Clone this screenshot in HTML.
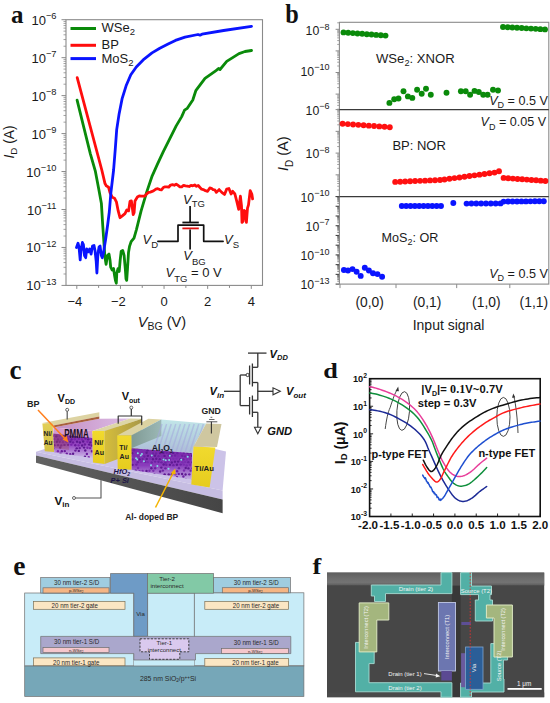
<!DOCTYPE html>
<html><head><meta charset="utf-8"><title>Figure</title>
<style>html,body{margin:0;padding:0;background:#fff;}svg{display:block;}</style></head>
<body><svg width="550" height="703" viewBox="0 0 550 703">
<rect width="550" height="703" fill="#fff"/>
<line x1="61.5" y1="19.7" x2="66" y2="19.7" stroke="#8a8a8a" stroke-width="1" />
<line x1="63.5" y1="46.23" x2="66" y2="46.23" stroke="#8a8a8a" stroke-width="0.8" />
<line x1="63.5" y1="39.55" x2="66" y2="39.55" stroke="#8a8a8a" stroke-width="0.8" />
<line x1="63.5" y1="34.81" x2="66" y2="34.81" stroke="#8a8a8a" stroke-width="0.8" />
<line x1="63.5" y1="31.13" x2="66" y2="31.13" stroke="#8a8a8a" stroke-width="0.8" />
<line x1="63.5" y1="28.12" x2="66" y2="28.12" stroke="#8a8a8a" stroke-width="0.8" />
<line x1="63.5" y1="25.58" x2="66" y2="25.58" stroke="#8a8a8a" stroke-width="0.8" />
<line x1="63.5" y1="23.38" x2="66" y2="23.38" stroke="#8a8a8a" stroke-width="0.8" />
<line x1="63.5" y1="21.44" x2="66" y2="21.44" stroke="#8a8a8a" stroke-width="0.8" />
<line x1="61.5" y1="57.66" x2="66" y2="57.66" stroke="#8a8a8a" stroke-width="1" />
<line x1="63.5" y1="84.19" x2="66" y2="84.19" stroke="#8a8a8a" stroke-width="0.8" />
<line x1="63.5" y1="77.51" x2="66" y2="77.51" stroke="#8a8a8a" stroke-width="0.8" />
<line x1="63.5" y1="72.77" x2="66" y2="72.77" stroke="#8a8a8a" stroke-width="0.8" />
<line x1="63.5" y1="69.09" x2="66" y2="69.09" stroke="#8a8a8a" stroke-width="0.8" />
<line x1="63.5" y1="66.08" x2="66" y2="66.08" stroke="#8a8a8a" stroke-width="0.8" />
<line x1="63.5" y1="63.54" x2="66" y2="63.54" stroke="#8a8a8a" stroke-width="0.8" />
<line x1="63.5" y1="61.34" x2="66" y2="61.34" stroke="#8a8a8a" stroke-width="0.8" />
<line x1="63.5" y1="59.4" x2="66" y2="59.4" stroke="#8a8a8a" stroke-width="0.8" />
<line x1="61.5" y1="95.62" x2="66" y2="95.62" stroke="#8a8a8a" stroke-width="1" />
<line x1="63.5" y1="122.15" x2="66" y2="122.15" stroke="#8a8a8a" stroke-width="0.8" />
<line x1="63.5" y1="115.47" x2="66" y2="115.47" stroke="#8a8a8a" stroke-width="0.8" />
<line x1="63.5" y1="110.73" x2="66" y2="110.73" stroke="#8a8a8a" stroke-width="0.8" />
<line x1="63.5" y1="107.05" x2="66" y2="107.05" stroke="#8a8a8a" stroke-width="0.8" />
<line x1="63.5" y1="104.04" x2="66" y2="104.04" stroke="#8a8a8a" stroke-width="0.8" />
<line x1="63.5" y1="101.5" x2="66" y2="101.5" stroke="#8a8a8a" stroke-width="0.8" />
<line x1="63.5" y1="99.3" x2="66" y2="99.3" stroke="#8a8a8a" stroke-width="0.8" />
<line x1="63.5" y1="97.36" x2="66" y2="97.36" stroke="#8a8a8a" stroke-width="0.8" />
<line x1="61.5" y1="133.58" x2="66" y2="133.58" stroke="#8a8a8a" stroke-width="1" />
<line x1="63.5" y1="160.11" x2="66" y2="160.11" stroke="#8a8a8a" stroke-width="0.8" />
<line x1="63.5" y1="153.43" x2="66" y2="153.43" stroke="#8a8a8a" stroke-width="0.8" />
<line x1="63.5" y1="148.69" x2="66" y2="148.69" stroke="#8a8a8a" stroke-width="0.8" />
<line x1="63.5" y1="145.01" x2="66" y2="145.01" stroke="#8a8a8a" stroke-width="0.8" />
<line x1="63.5" y1="142" x2="66" y2="142" stroke="#8a8a8a" stroke-width="0.8" />
<line x1="63.5" y1="139.46" x2="66" y2="139.46" stroke="#8a8a8a" stroke-width="0.8" />
<line x1="63.5" y1="137.26" x2="66" y2="137.26" stroke="#8a8a8a" stroke-width="0.8" />
<line x1="63.5" y1="135.32" x2="66" y2="135.32" stroke="#8a8a8a" stroke-width="0.8" />
<line x1="61.5" y1="171.54" x2="66" y2="171.54" stroke="#8a8a8a" stroke-width="1" />
<line x1="63.5" y1="198.07" x2="66" y2="198.07" stroke="#8a8a8a" stroke-width="0.8" />
<line x1="63.5" y1="191.39" x2="66" y2="191.39" stroke="#8a8a8a" stroke-width="0.8" />
<line x1="63.5" y1="186.65" x2="66" y2="186.65" stroke="#8a8a8a" stroke-width="0.8" />
<line x1="63.5" y1="182.97" x2="66" y2="182.97" stroke="#8a8a8a" stroke-width="0.8" />
<line x1="63.5" y1="179.96" x2="66" y2="179.96" stroke="#8a8a8a" stroke-width="0.8" />
<line x1="63.5" y1="177.42" x2="66" y2="177.42" stroke="#8a8a8a" stroke-width="0.8" />
<line x1="63.5" y1="175.22" x2="66" y2="175.22" stroke="#8a8a8a" stroke-width="0.8" />
<line x1="63.5" y1="173.28" x2="66" y2="173.28" stroke="#8a8a8a" stroke-width="0.8" />
<line x1="61.5" y1="209.5" x2="66" y2="209.5" stroke="#8a8a8a" stroke-width="1" />
<line x1="63.5" y1="236.03" x2="66" y2="236.03" stroke="#8a8a8a" stroke-width="0.8" />
<line x1="63.5" y1="229.35" x2="66" y2="229.35" stroke="#8a8a8a" stroke-width="0.8" />
<line x1="63.5" y1="224.61" x2="66" y2="224.61" stroke="#8a8a8a" stroke-width="0.8" />
<line x1="63.5" y1="220.93" x2="66" y2="220.93" stroke="#8a8a8a" stroke-width="0.8" />
<line x1="63.5" y1="217.92" x2="66" y2="217.92" stroke="#8a8a8a" stroke-width="0.8" />
<line x1="63.5" y1="215.38" x2="66" y2="215.38" stroke="#8a8a8a" stroke-width="0.8" />
<line x1="63.5" y1="213.18" x2="66" y2="213.18" stroke="#8a8a8a" stroke-width="0.8" />
<line x1="63.5" y1="211.24" x2="66" y2="211.24" stroke="#8a8a8a" stroke-width="0.8" />
<line x1="61.5" y1="247.46" x2="66" y2="247.46" stroke="#8a8a8a" stroke-width="1" />
<line x1="63.5" y1="273.99" x2="66" y2="273.99" stroke="#8a8a8a" stroke-width="0.8" />
<line x1="63.5" y1="267.31" x2="66" y2="267.31" stroke="#8a8a8a" stroke-width="0.8" />
<line x1="63.5" y1="262.57" x2="66" y2="262.57" stroke="#8a8a8a" stroke-width="0.8" />
<line x1="63.5" y1="258.89" x2="66" y2="258.89" stroke="#8a8a8a" stroke-width="0.8" />
<line x1="63.5" y1="255.88" x2="66" y2="255.88" stroke="#8a8a8a" stroke-width="0.8" />
<line x1="63.5" y1="253.34" x2="66" y2="253.34" stroke="#8a8a8a" stroke-width="0.8" />
<line x1="63.5" y1="251.14" x2="66" y2="251.14" stroke="#8a8a8a" stroke-width="0.8" />
<line x1="63.5" y1="249.2" x2="66" y2="249.2" stroke="#8a8a8a" stroke-width="0.8" />
<line x1="61.5" y1="285.42" x2="66" y2="285.42" stroke="#8a8a8a" stroke-width="1" />
<line x1="76.81" y1="285.4" x2="76.81" y2="288.9" stroke="#8a8a8a" stroke-width="1" />
<line x1="98.62" y1="285.4" x2="98.62" y2="287.9" stroke="#8a8a8a" stroke-width="1" />
<line x1="120.43" y1="285.4" x2="120.43" y2="288.9" stroke="#8a8a8a" stroke-width="1" />
<line x1="142.24" y1="285.4" x2="142.24" y2="287.9" stroke="#8a8a8a" stroke-width="1" />
<line x1="164.05" y1="285.4" x2="164.05" y2="288.9" stroke="#8a8a8a" stroke-width="1" />
<line x1="185.86" y1="285.4" x2="185.86" y2="287.9" stroke="#8a8a8a" stroke-width="1" />
<line x1="207.67" y1="285.4" x2="207.67" y2="288.9" stroke="#8a8a8a" stroke-width="1" />
<line x1="229.48" y1="285.4" x2="229.48" y2="287.9" stroke="#8a8a8a" stroke-width="1" />
<line x1="251.29" y1="285.4" x2="251.29" y2="288.9" stroke="#8a8a8a" stroke-width="1" />
<rect x="66" y="19.7" width="196.5" height="265.7" fill="none" stroke="#8a8a8a" stroke-width="1.1" />
<text x="56.5" y="24.7" font-family='"Liberation Sans", sans-serif' font-size="13" fill="#1a1a1a" text-anchor="end">10<tspan font-size="9.3" dy="-5.6">−6</tspan></text>
<text x="56.5" y="62.66" font-family='"Liberation Sans", sans-serif' font-size="13" fill="#1a1a1a" text-anchor="end">10<tspan font-size="9.3" dy="-5.6">−7</tspan></text>
<text x="56.5" y="100.62" font-family='"Liberation Sans", sans-serif' font-size="13" fill="#1a1a1a" text-anchor="end">10<tspan font-size="9.3" dy="-5.6">−8</tspan></text>
<text x="56.5" y="138.58" font-family='"Liberation Sans", sans-serif' font-size="13" fill="#1a1a1a" text-anchor="end">10<tspan font-size="9.3" dy="-5.6">−9</tspan></text>
<text x="56.5" y="176.54" font-family='"Liberation Sans", sans-serif' font-size="13" fill="#1a1a1a" text-anchor="end">10<tspan font-size="9.3" dy="-5.6">−10</tspan></text>
<text x="56.5" y="214.5" font-family='"Liberation Sans", sans-serif' font-size="13" fill="#1a1a1a" text-anchor="end">10<tspan font-size="9.3" dy="-5.6">−11</tspan></text>
<text x="56.5" y="252.46" font-family='"Liberation Sans", sans-serif' font-size="13" fill="#1a1a1a" text-anchor="end">10<tspan font-size="9.3" dy="-5.6">−12</tspan></text>
<text x="56.5" y="290.42" font-family='"Liberation Sans", sans-serif' font-size="13" fill="#1a1a1a" text-anchor="end">10<tspan font-size="9.3" dy="-5.6">−13</tspan></text>
<text x="74.81" y="306.3" font-family='"Liberation Sans", sans-serif' font-size="13" fill="#1a1a1a" text-anchor="middle" font-weight="normal" font-style="normal" >−4</text>
<text x="118.43" y="306.3" font-family='"Liberation Sans", sans-serif' font-size="13" fill="#1a1a1a" text-anchor="middle" font-weight="normal" font-style="normal" >−2</text>
<text x="164.05" y="306.3" font-family='"Liberation Sans", sans-serif' font-size="13" fill="#1a1a1a" text-anchor="middle" font-weight="normal" font-style="normal" >0</text>
<text x="207.67" y="306.3" font-family='"Liberation Sans", sans-serif' font-size="13" fill="#1a1a1a" text-anchor="middle" font-weight="normal" font-style="normal" >2</text>
<text x="251.29" y="306.3" font-family='"Liberation Sans", sans-serif' font-size="13" fill="#1a1a1a" text-anchor="middle" font-weight="normal" font-style="normal" >4</text>
<text x="137.8" y="327.3" font-family='"Liberation Sans", sans-serif' font-size="14.6" fill="#1a1a1a"><tspan font-style="italic">V</tspan><tspan font-size="10.5" dy="3">BG</tspan><tspan dy="-3"> (V)</tspan></text>
<text transform="translate(14.4,158.6) rotate(-90)" font-family='"Liberation Sans", sans-serif' font-size="13.8" fill="#1a1a1a"><tspan font-style="italic">I</tspan><tspan font-size="9.8" dy="3">D</tspan><tspan dy="-3"> (A)</tspan></text>
<text x="11" y="22.9" font-family='"Liberation Serif", serif' font-size="25" fill="#111" text-anchor="start" font-weight="bold" font-style="normal" >a</text>
<polyline points="77.1,100.2 84,128.2 90.3,153.6 95.4,171.4 98.6,188.2 101.4,203.6 102.7,225 103.7,239.5 104.9,257 106.1,264.3 107.5,255.5 109,254.1 110,259.9 110.7,267.2 112.2,270.1 113.6,268.6 114.4,274.5 115.4,280.3 116.3,283.2 116.8,273 118,268.6 119.2,271.5 120.2,259.9 121.2,251.2 122.7,250.5 124.1,255.5 125.3,268.6 126,278.8 126.7,280.3 127.5,268.6 128.5,252.6 129.6,246.1 131.1,241.7 134,238.1 136.5,229.3 141.1,210.9 146.6,192.4 152.2,175.8 157.7,163.7 163.3,151.7 169.7,138.8 176.2,125.9 181.7,116.6 184.5,110.2 187.3,108.3 192.8,100 195.8,90.7 205,78.4 216,70.6 218.5,68.5 220,69.5 226.7,61.4 239,53.6 245,51.5 251.5,50.5" fill="none" stroke="#0a8a0a" stroke-width="2.8" stroke-linejoin="round" stroke-linecap="round" />
<polyline points="77.2,77.6 101.8,170 105,183.6 106.4,185.9 108.6,187.3 110,192.7 112.3,197.3 114.5,198.2 116.4,201.8 118.2,210.9 120,217.7 122.3,215.9 125,213.6 126.8,210 128.6,210.9 130,201.4 131.4,200.9 133.2,214.5 134.1,212.7 135,200.9 137.4,197 139.25,195.87 141.1,196.1 142.95,196.21 144.8,196.1 146.65,193.91 148.5,192.4 150.33,192.04 152.17,191.46 154,190.5 155.87,189.07 157.73,188.63 159.6,189.6 161.45,189.78 163.3,187.57 165.15,186.81 167,186.8 168.8,187.19 170.6,185 172.47,184.62 174.33,185.27 176.2,184.1 178.05,185.39 179.9,186.8 181.73,186.86 183.57,185.29 185.4,185.9 187.26,186.07 189.12,186.5 190.98,185.42 192.84,185.81 194.7,185 196.47,186.28 198.23,185.53 200,187.5 201.65,189.22 203.3,189.6 205.45,190.69 207.6,191.3 209.8,188 211.45,188.28 213.1,189.6 214.75,189.78 216.4,192.4 219.1,189.6 221.8,192.4 224.5,194.5 226.7,189.1 228.9,188.5 231.1,194 232.7,191.3 234.9,194 237.1,202.7 238.7,209.3 240.4,196.2 241.5,206 242,222.4 243.1,221.3 244.2,210.4 245.3,211.5 246.4,222.4 247.5,208.2 248.5,204.9 250.2,190.7 251.8,194 252.6,198.9" fill="none" stroke="#ff0d0d" stroke-width="2.8" stroke-linejoin="round" stroke-linecap="round" />
<polyline points="76.5,247.5 78,243.2 79,246.8 80.2,259.9 80.9,251.2 82.4,242.5 83.4,244.6 84.5,255.5 85.7,257.7 86.7,249 88.2,251.9 89.6,249 91.1,254.1 92.5,246.1 94,245.4 95,250.5 96.2,261.4 96.9,273 97.9,254.1 99.1,246.8 100.1,246.1 101.3,255.5 102.3,257.7 103.5,252.6 105.6,239.5 107.7,224.5 109.3,212 110.9,192.7 113.6,170 115.2,150 116.7,129.6 119.1,113.9 122.2,98.3 126.1,85.8 130.8,74.8 136.3,67 144.1,59.1 152,52.9 159.8,48.2 167.6,44.3 175.4,40.4 185,37.2 198,34.5 200,35.2 202,34.2 223.6,30.5 251.5,26.4" fill="none" stroke="#0a14ff" stroke-width="2.8" stroke-linejoin="round" stroke-linecap="round" />
<line x1="70.5" y1="28.5" x2="96" y2="28.5" stroke="#0a8a0a" stroke-width="3" />
<line x1="70.5" y1="45.3" x2="96" y2="45.3" stroke="#ff0d0d" stroke-width="3" />
<line x1="70.5" y1="58.6" x2="96" y2="58.6" stroke="#0a14ff" stroke-width="3" />
<text x="101.5" y="32.3" font-family='"Liberation Sans", sans-serif' font-size="13" fill="#1a1a1a" text-anchor="start" font-weight="normal" font-style="normal" >WSe<tspan font-size="9.5" dy="3">2</tspan></text>
<text x="101.5" y="48.8" font-family='"Liberation Sans", sans-serif' font-size="13" fill="#1a1a1a" text-anchor="start" font-weight="normal" font-style="normal" >BP</text>
<text x="101.5" y="62.6" font-family='"Liberation Sans", sans-serif' font-size="13" fill="#1a1a1a" text-anchor="start" font-weight="normal" font-style="normal" >MoS<tspan font-size="9.5" dy="3">2</tspan></text>
<line x1="190.1" y1="206" x2="190.1" y2="222.5" stroke="#111" stroke-width="1.7" />
<line x1="182.4" y1="222.5" x2="198.8" y2="222.5" stroke="#111" stroke-width="1.8" />
<polyline points="157.9,241.3 178,241.3 178,225.2 203.7,225.2 203.7,241.3 223.1,241.3" fill="none" stroke="#111" stroke-width="1.7" stroke-linejoin="round" stroke-linecap="round" stroke-linecap="butt" stroke-linejoin="miter"/>
<line x1="182.4" y1="228.4" x2="198.8" y2="228.4" stroke="#e01010" stroke-width="1.8" />
<line x1="190.1" y1="229.5" x2="190.1" y2="249.5" stroke="#111" stroke-width="1.7" />
<text x="183" y="203.6" font-family='"Liberation Sans", sans-serif' font-size="13" fill="#1a1a1a"><tspan font-style="italic">V</tspan><tspan font-size="9.5" dy="3.5">TG</tspan></text>
<text x="224" y="244" font-family='"Liberation Sans", sans-serif' font-size="13" fill="#1a1a1a"><tspan font-style="italic">V</tspan><tspan font-size="9.5" dy="3.5">S</tspan></text>
<text x="142.6" y="244.2" font-family='"Liberation Sans", sans-serif' font-size="13" fill="#1a1a1a"><tspan font-style="italic">V</tspan><tspan font-size="9.5" dy="3.5">D</tspan></text>
<text x="183.3" y="260.3" font-family='"Liberation Sans", sans-serif' font-size="13" fill="#1a1a1a"><tspan font-style="italic">V</tspan><tspan font-size="9.5" dy="4.8">BG</tspan></text>
<text x="165.5" y="277.2" font-family='"Liberation Sans", sans-serif' font-size="13" fill="#1a1a1a"><tspan font-style="italic">V</tspan><tspan font-size="9.5" dy="5">TG</tspan><tspan dy="-5"> = 0 V</tspan></text>
<line x1="337.2" y1="109.2" x2="339.4" y2="109.2" stroke="#8a8a8a" stroke-width="0.8" />
<line x1="337.2" y1="105.39" x2="339.4" y2="105.39" stroke="#8a8a8a" stroke-width="0.8" />
<line x1="337.2" y1="102.7" x2="339.4" y2="102.7" stroke="#8a8a8a" stroke-width="0.8" />
<line x1="337.2" y1="100.6" x2="339.4" y2="100.6" stroke="#8a8a8a" stroke-width="0.8" />
<line x1="337.2" y1="98.89" x2="339.4" y2="98.89" stroke="#8a8a8a" stroke-width="0.8" />
<line x1="337.2" y1="97.45" x2="339.4" y2="97.45" stroke="#8a8a8a" stroke-width="0.8" />
<line x1="337.2" y1="96.19" x2="339.4" y2="96.19" stroke="#8a8a8a" stroke-width="0.8" />
<line x1="337.2" y1="95.09" x2="339.4" y2="95.09" stroke="#8a8a8a" stroke-width="0.8" />
<line x1="335.6" y1="94.1" x2="339.4" y2="94.1" stroke="#8a8a8a" stroke-width="1" />
<line x1="337.2" y1="87.6" x2="339.4" y2="87.6" stroke="#8a8a8a" stroke-width="0.8" />
<line x1="337.2" y1="83.79" x2="339.4" y2="83.79" stroke="#8a8a8a" stroke-width="0.8" />
<line x1="337.2" y1="81.1" x2="339.4" y2="81.1" stroke="#8a8a8a" stroke-width="0.8" />
<line x1="337.2" y1="79" x2="339.4" y2="79" stroke="#8a8a8a" stroke-width="0.8" />
<line x1="337.2" y1="77.29" x2="339.4" y2="77.29" stroke="#8a8a8a" stroke-width="0.8" />
<line x1="337.2" y1="75.85" x2="339.4" y2="75.85" stroke="#8a8a8a" stroke-width="0.8" />
<line x1="337.2" y1="74.59" x2="339.4" y2="74.59" stroke="#8a8a8a" stroke-width="0.8" />
<line x1="337.2" y1="73.49" x2="339.4" y2="73.49" stroke="#8a8a8a" stroke-width="0.8" />
<line x1="335.6" y1="72.5" x2="339.4" y2="72.5" stroke="#8a8a8a" stroke-width="1" />
<line x1="337.2" y1="66" x2="339.4" y2="66" stroke="#8a8a8a" stroke-width="0.8" />
<line x1="337.2" y1="62.19" x2="339.4" y2="62.19" stroke="#8a8a8a" stroke-width="0.8" />
<line x1="337.2" y1="59.5" x2="339.4" y2="59.5" stroke="#8a8a8a" stroke-width="0.8" />
<line x1="337.2" y1="57.4" x2="339.4" y2="57.4" stroke="#8a8a8a" stroke-width="0.8" />
<line x1="337.2" y1="55.69" x2="339.4" y2="55.69" stroke="#8a8a8a" stroke-width="0.8" />
<line x1="337.2" y1="54.25" x2="339.4" y2="54.25" stroke="#8a8a8a" stroke-width="0.8" />
<line x1="337.2" y1="52.99" x2="339.4" y2="52.99" stroke="#8a8a8a" stroke-width="0.8" />
<line x1="337.2" y1="51.89" x2="339.4" y2="51.89" stroke="#8a8a8a" stroke-width="0.8" />
<line x1="335.6" y1="50.9" x2="339.4" y2="50.9" stroke="#8a8a8a" stroke-width="1" />
<line x1="337.2" y1="44.4" x2="339.4" y2="44.4" stroke="#8a8a8a" stroke-width="0.8" />
<line x1="337.2" y1="40.59" x2="339.4" y2="40.59" stroke="#8a8a8a" stroke-width="0.8" />
<line x1="337.2" y1="37.9" x2="339.4" y2="37.9" stroke="#8a8a8a" stroke-width="0.8" />
<line x1="337.2" y1="35.8" x2="339.4" y2="35.8" stroke="#8a8a8a" stroke-width="0.8" />
<line x1="337.2" y1="34.09" x2="339.4" y2="34.09" stroke="#8a8a8a" stroke-width="0.8" />
<line x1="337.2" y1="32.65" x2="339.4" y2="32.65" stroke="#8a8a8a" stroke-width="0.8" />
<line x1="337.2" y1="31.39" x2="339.4" y2="31.39" stroke="#8a8a8a" stroke-width="0.8" />
<line x1="337.2" y1="30.29" x2="339.4" y2="30.29" stroke="#8a8a8a" stroke-width="0.8" />
<line x1="335.6" y1="29.3" x2="339.4" y2="29.3" stroke="#8a8a8a" stroke-width="1" />
<line x1="337.2" y1="22.8" x2="339.4" y2="22.8" stroke="#8a8a8a" stroke-width="0.8" />
<line x1="335.6" y1="196.6" x2="339.4" y2="196.6" stroke="#8a8a8a" stroke-width="1" />
<line x1="337.2" y1="190.05" x2="339.4" y2="190.05" stroke="#8a8a8a" stroke-width="0.8" />
<line x1="337.2" y1="186.22" x2="339.4" y2="186.22" stroke="#8a8a8a" stroke-width="0.8" />
<line x1="337.2" y1="183.51" x2="339.4" y2="183.51" stroke="#8a8a8a" stroke-width="0.8" />
<line x1="337.2" y1="181.4" x2="339.4" y2="181.4" stroke="#8a8a8a" stroke-width="0.8" />
<line x1="337.2" y1="179.68" x2="339.4" y2="179.68" stroke="#8a8a8a" stroke-width="0.8" />
<line x1="337.2" y1="178.22" x2="339.4" y2="178.22" stroke="#8a8a8a" stroke-width="0.8" />
<line x1="337.2" y1="176.96" x2="339.4" y2="176.96" stroke="#8a8a8a" stroke-width="0.8" />
<line x1="337.2" y1="175.85" x2="339.4" y2="175.85" stroke="#8a8a8a" stroke-width="0.8" />
<line x1="335.6" y1="174.85" x2="339.4" y2="174.85" stroke="#8a8a8a" stroke-width="1" />
<line x1="337.2" y1="168.3" x2="339.4" y2="168.3" stroke="#8a8a8a" stroke-width="0.8" />
<line x1="337.2" y1="164.47" x2="339.4" y2="164.47" stroke="#8a8a8a" stroke-width="0.8" />
<line x1="337.2" y1="161.76" x2="339.4" y2="161.76" stroke="#8a8a8a" stroke-width="0.8" />
<line x1="337.2" y1="159.65" x2="339.4" y2="159.65" stroke="#8a8a8a" stroke-width="0.8" />
<line x1="337.2" y1="157.93" x2="339.4" y2="157.93" stroke="#8a8a8a" stroke-width="0.8" />
<line x1="337.2" y1="156.47" x2="339.4" y2="156.47" stroke="#8a8a8a" stroke-width="0.8" />
<line x1="337.2" y1="155.21" x2="339.4" y2="155.21" stroke="#8a8a8a" stroke-width="0.8" />
<line x1="337.2" y1="154.1" x2="339.4" y2="154.1" stroke="#8a8a8a" stroke-width="0.8" />
<line x1="335.6" y1="153.1" x2="339.4" y2="153.1" stroke="#8a8a8a" stroke-width="1" />
<line x1="337.2" y1="146.55" x2="339.4" y2="146.55" stroke="#8a8a8a" stroke-width="0.8" />
<line x1="337.2" y1="142.72" x2="339.4" y2="142.72" stroke="#8a8a8a" stroke-width="0.8" />
<line x1="337.2" y1="140.01" x2="339.4" y2="140.01" stroke="#8a8a8a" stroke-width="0.8" />
<line x1="337.2" y1="137.9" x2="339.4" y2="137.9" stroke="#8a8a8a" stroke-width="0.8" />
<line x1="337.2" y1="136.18" x2="339.4" y2="136.18" stroke="#8a8a8a" stroke-width="0.8" />
<line x1="337.2" y1="134.72" x2="339.4" y2="134.72" stroke="#8a8a8a" stroke-width="0.8" />
<line x1="337.2" y1="133.46" x2="339.4" y2="133.46" stroke="#8a8a8a" stroke-width="0.8" />
<line x1="337.2" y1="132.35" x2="339.4" y2="132.35" stroke="#8a8a8a" stroke-width="0.8" />
<line x1="335.6" y1="131.35" x2="339.4" y2="131.35" stroke="#8a8a8a" stroke-width="1" />
<line x1="337.2" y1="124.8" x2="339.4" y2="124.8" stroke="#8a8a8a" stroke-width="0.8" />
<line x1="337.2" y1="120.97" x2="339.4" y2="120.97" stroke="#8a8a8a" stroke-width="0.8" />
<line x1="337.2" y1="118.26" x2="339.4" y2="118.26" stroke="#8a8a8a" stroke-width="0.8" />
<line x1="337.2" y1="116.15" x2="339.4" y2="116.15" stroke="#8a8a8a" stroke-width="0.8" />
<line x1="337.2" y1="114.43" x2="339.4" y2="114.43" stroke="#8a8a8a" stroke-width="0.8" />
<line x1="337.2" y1="112.97" x2="339.4" y2="112.97" stroke="#8a8a8a" stroke-width="0.8" />
<line x1="337.2" y1="111.71" x2="339.4" y2="111.71" stroke="#8a8a8a" stroke-width="0.8" />
<line x1="337.2" y1="110.6" x2="339.4" y2="110.6" stroke="#8a8a8a" stroke-width="0.8" />
<line x1="335.6" y1="109.6" x2="339.4" y2="109.6" stroke="#8a8a8a" stroke-width="1" />
<line x1="335.6" y1="284.1" x2="339.4" y2="284.1" stroke="#444" stroke-width="1.1" />
<line x1="337.3" y1="281.17" x2="339.4" y2="281.17" stroke="#555" stroke-width="0.7" />
<line x1="337.3" y1="279.46" x2="339.4" y2="279.46" stroke="#555" stroke-width="0.7" />
<line x1="337.3" y1="278.24" x2="339.4" y2="278.24" stroke="#555" stroke-width="0.7" />
<line x1="337.3" y1="277.3" x2="339.4" y2="277.3" stroke="#555" stroke-width="0.7" />
<line x1="337.3" y1="276.53" x2="339.4" y2="276.53" stroke="#555" stroke-width="0.7" />
<line x1="337.3" y1="275.88" x2="339.4" y2="275.88" stroke="#555" stroke-width="0.7" />
<line x1="337.3" y1="275.31" x2="339.4" y2="275.31" stroke="#555" stroke-width="0.7" />
<line x1="337.3" y1="274.82" x2="339.4" y2="274.82" stroke="#555" stroke-width="0.7" />
<line x1="335.6" y1="274.37" x2="339.4" y2="274.37" stroke="#444" stroke-width="1.1" />
<line x1="337.3" y1="271.44" x2="339.4" y2="271.44" stroke="#555" stroke-width="0.7" />
<line x1="337.3" y1="269.73" x2="339.4" y2="269.73" stroke="#555" stroke-width="0.7" />
<line x1="337.3" y1="268.51" x2="339.4" y2="268.51" stroke="#555" stroke-width="0.7" />
<line x1="337.3" y1="267.57" x2="339.4" y2="267.57" stroke="#555" stroke-width="0.7" />
<line x1="337.3" y1="266.8" x2="339.4" y2="266.8" stroke="#555" stroke-width="0.7" />
<line x1="337.3" y1="266.15" x2="339.4" y2="266.15" stroke="#555" stroke-width="0.7" />
<line x1="337.3" y1="265.58" x2="339.4" y2="265.58" stroke="#555" stroke-width="0.7" />
<line x1="337.3" y1="265.09" x2="339.4" y2="265.09" stroke="#555" stroke-width="0.7" />
<line x1="335.6" y1="264.64" x2="339.4" y2="264.64" stroke="#444" stroke-width="1.1" />
<line x1="337.3" y1="261.71" x2="339.4" y2="261.71" stroke="#555" stroke-width="0.7" />
<line x1="337.3" y1="260" x2="339.4" y2="260" stroke="#555" stroke-width="0.7" />
<line x1="337.3" y1="258.78" x2="339.4" y2="258.78" stroke="#555" stroke-width="0.7" />
<line x1="337.3" y1="257.84" x2="339.4" y2="257.84" stroke="#555" stroke-width="0.7" />
<line x1="337.3" y1="257.07" x2="339.4" y2="257.07" stroke="#555" stroke-width="0.7" />
<line x1="337.3" y1="256.42" x2="339.4" y2="256.42" stroke="#555" stroke-width="0.7" />
<line x1="337.3" y1="255.85" x2="339.4" y2="255.85" stroke="#555" stroke-width="0.7" />
<line x1="337.3" y1="255.36" x2="339.4" y2="255.36" stroke="#555" stroke-width="0.7" />
<line x1="335.6" y1="254.91" x2="339.4" y2="254.91" stroke="#444" stroke-width="1.1" />
<line x1="337.3" y1="251.98" x2="339.4" y2="251.98" stroke="#555" stroke-width="0.7" />
<line x1="337.3" y1="250.27" x2="339.4" y2="250.27" stroke="#555" stroke-width="0.7" />
<line x1="337.3" y1="249.05" x2="339.4" y2="249.05" stroke="#555" stroke-width="0.7" />
<line x1="337.3" y1="248.11" x2="339.4" y2="248.11" stroke="#555" stroke-width="0.7" />
<line x1="337.3" y1="247.34" x2="339.4" y2="247.34" stroke="#555" stroke-width="0.7" />
<line x1="337.3" y1="246.69" x2="339.4" y2="246.69" stroke="#555" stroke-width="0.7" />
<line x1="337.3" y1="246.12" x2="339.4" y2="246.12" stroke="#555" stroke-width="0.7" />
<line x1="337.3" y1="245.63" x2="339.4" y2="245.63" stroke="#555" stroke-width="0.7" />
<line x1="335.6" y1="245.18" x2="339.4" y2="245.18" stroke="#444" stroke-width="1.1" />
<line x1="337.3" y1="242.25" x2="339.4" y2="242.25" stroke="#555" stroke-width="0.7" />
<line x1="337.3" y1="240.54" x2="339.4" y2="240.54" stroke="#555" stroke-width="0.7" />
<line x1="337.3" y1="239.32" x2="339.4" y2="239.32" stroke="#555" stroke-width="0.7" />
<line x1="337.3" y1="238.38" x2="339.4" y2="238.38" stroke="#555" stroke-width="0.7" />
<line x1="337.3" y1="237.61" x2="339.4" y2="237.61" stroke="#555" stroke-width="0.7" />
<line x1="337.3" y1="236.96" x2="339.4" y2="236.96" stroke="#555" stroke-width="0.7" />
<line x1="337.3" y1="236.39" x2="339.4" y2="236.39" stroke="#555" stroke-width="0.7" />
<line x1="337.3" y1="235.9" x2="339.4" y2="235.9" stroke="#555" stroke-width="0.7" />
<line x1="335.6" y1="235.45" x2="339.4" y2="235.45" stroke="#444" stroke-width="1.1" />
<line x1="337.3" y1="232.52" x2="339.4" y2="232.52" stroke="#555" stroke-width="0.7" />
<line x1="337.3" y1="230.81" x2="339.4" y2="230.81" stroke="#555" stroke-width="0.7" />
<line x1="337.3" y1="229.59" x2="339.4" y2="229.59" stroke="#555" stroke-width="0.7" />
<line x1="337.3" y1="228.65" x2="339.4" y2="228.65" stroke="#555" stroke-width="0.7" />
<line x1="337.3" y1="227.88" x2="339.4" y2="227.88" stroke="#555" stroke-width="0.7" />
<line x1="337.3" y1="227.23" x2="339.4" y2="227.23" stroke="#555" stroke-width="0.7" />
<line x1="337.3" y1="226.66" x2="339.4" y2="226.66" stroke="#555" stroke-width="0.7" />
<line x1="337.3" y1="226.17" x2="339.4" y2="226.17" stroke="#555" stroke-width="0.7" />
<line x1="335.6" y1="225.72" x2="339.4" y2="225.72" stroke="#444" stroke-width="1.1" />
<line x1="337.3" y1="222.79" x2="339.4" y2="222.79" stroke="#555" stroke-width="0.7" />
<line x1="337.3" y1="221.08" x2="339.4" y2="221.08" stroke="#555" stroke-width="0.7" />
<line x1="337.3" y1="219.86" x2="339.4" y2="219.86" stroke="#555" stroke-width="0.7" />
<line x1="337.3" y1="218.92" x2="339.4" y2="218.92" stroke="#555" stroke-width="0.7" />
<line x1="337.3" y1="218.15" x2="339.4" y2="218.15" stroke="#555" stroke-width="0.7" />
<line x1="337.3" y1="217.5" x2="339.4" y2="217.5" stroke="#555" stroke-width="0.7" />
<line x1="337.3" y1="216.93" x2="339.4" y2="216.93" stroke="#555" stroke-width="0.7" />
<line x1="337.3" y1="216.44" x2="339.4" y2="216.44" stroke="#555" stroke-width="0.7" />
<line x1="335.6" y1="215.99" x2="339.4" y2="215.99" stroke="#444" stroke-width="1.1" />
<line x1="337.3" y1="213.06" x2="339.4" y2="213.06" stroke="#555" stroke-width="0.7" />
<line x1="337.3" y1="211.35" x2="339.4" y2="211.35" stroke="#555" stroke-width="0.7" />
<line x1="337.3" y1="210.13" x2="339.4" y2="210.13" stroke="#555" stroke-width="0.7" />
<line x1="337.3" y1="209.19" x2="339.4" y2="209.19" stroke="#555" stroke-width="0.7" />
<line x1="337.3" y1="208.42" x2="339.4" y2="208.42" stroke="#555" stroke-width="0.7" />
<line x1="337.3" y1="207.77" x2="339.4" y2="207.77" stroke="#555" stroke-width="0.7" />
<line x1="337.3" y1="207.2" x2="339.4" y2="207.2" stroke="#555" stroke-width="0.7" />
<line x1="337.3" y1="206.71" x2="339.4" y2="206.71" stroke="#555" stroke-width="0.7" />
<line x1="335.6" y1="206.26" x2="339.4" y2="206.26" stroke="#444" stroke-width="1.1" />
<line x1="337.3" y1="203.33" x2="339.4" y2="203.33" stroke="#555" stroke-width="0.7" />
<line x1="337.3" y1="201.62" x2="339.4" y2="201.62" stroke="#555" stroke-width="0.7" />
<line x1="337.3" y1="200.4" x2="339.4" y2="200.4" stroke="#555" stroke-width="0.7" />
<line x1="337.3" y1="199.46" x2="339.4" y2="199.46" stroke="#555" stroke-width="0.7" />
<line x1="337.3" y1="198.69" x2="339.4" y2="198.69" stroke="#555" stroke-width="0.7" />
<line x1="337.3" y1="198.04" x2="339.4" y2="198.04" stroke="#555" stroke-width="0.7" />
<line x1="337.3" y1="197.47" x2="339.4" y2="197.47" stroke="#555" stroke-width="0.7" />
<line x1="337.3" y1="196.98" x2="339.4" y2="196.98" stroke="#555" stroke-width="0.7" />
<line x1="335.6" y1="196.53" x2="339.4" y2="196.53" stroke="#444" stroke-width="1.1" />
<line x1="340" y1="284.1" x2="340" y2="288.1" stroke="#8a8a8a" stroke-width="1" />
<line x1="396" y1="284.1" x2="396" y2="288.1" stroke="#8a8a8a" stroke-width="1" />
<line x1="456.7" y1="284.1" x2="456.7" y2="288.1" stroke="#8a8a8a" stroke-width="1" />
<line x1="509.8" y1="284.1" x2="509.8" y2="288.1" stroke="#8a8a8a" stroke-width="1" />
<rect x="339.4" y="22.3" width="209.4" height="261.8" fill="none" stroke="#8a8a8a" stroke-width="1.1" />
<line x1="339.4" y1="109.6" x2="548.8" y2="109.6" stroke="#3a3a3a" stroke-width="1.4" />
<line x1="339.4" y1="196.6" x2="548.8" y2="196.6" stroke="#3a3a3a" stroke-width="1.4" />
<text x="329.5" y="34.9" font-family='"Liberation Sans", sans-serif' font-size="12.3" fill="#1a1a1a" text-anchor="end">10<tspan font-size="9" dy="-5.4">−8</tspan></text>
<text x="329.5" y="75.6" font-family='"Liberation Sans", sans-serif' font-size="12.3" fill="#1a1a1a" text-anchor="end">10<tspan font-size="9" dy="-5.4">−10</tspan></text>
<text x="329.5" y="114.6" font-family='"Liberation Sans", sans-serif' font-size="12.3" fill="#1a1a1a" text-anchor="end">10<tspan font-size="9" dy="-5.4">−6</tspan></text>
<text x="329.5" y="158.2" font-family='"Liberation Sans", sans-serif' font-size="12.3" fill="#1a1a1a" text-anchor="end">10<tspan font-size="9" dy="-5.4">−8</tspan></text>
<text x="329.5" y="201.6" font-family='"Liberation Sans", sans-serif' font-size="12.3" fill="#1a1a1a" text-anchor="end">10<tspan font-size="9" dy="-5.4">−10</tspan></text>
<text x="329.5" y="230.7" font-family='"Liberation Sans", sans-serif' font-size="12.3" fill="#1a1a1a" text-anchor="end">10<tspan font-size="9" dy="-5.4">−7</tspan></text>
<text x="329.5" y="259.9" font-family='"Liberation Sans", sans-serif' font-size="12.3" fill="#1a1a1a" text-anchor="end">10<tspan font-size="9" dy="-5.4">−10</tspan></text>
<text x="329.5" y="289.1" font-family='"Liberation Sans", sans-serif' font-size="12.3" fill="#1a1a1a" text-anchor="end">10<tspan font-size="9" dy="-5.4">−13</tspan></text>
<text x="369.6" y="306.6" font-family='"Liberation Sans", sans-serif' font-size="13.8" fill="#1a1a1a" text-anchor="middle" font-weight="normal" font-style="normal" >(0,0)</text>
<text x="427.2" y="306.6" font-family='"Liberation Sans", sans-serif' font-size="13.8" fill="#1a1a1a" text-anchor="middle" font-weight="normal" font-style="normal" >(0,1)</text>
<text x="486.3" y="306.6" font-family='"Liberation Sans", sans-serif' font-size="13.8" fill="#1a1a1a" text-anchor="middle" font-weight="normal" font-style="normal" >(1,0)</text>
<text x="533.8" y="306.6" font-family='"Liberation Sans", sans-serif' font-size="13.8" fill="#1a1a1a" text-anchor="middle" font-weight="normal" font-style="normal" >(1,1)</text>
<text x="448.5" y="330" font-family='"Liberation Sans", sans-serif' font-size="14" fill="#1a1a1a" text-anchor="middle" font-weight="normal" font-style="normal" >Input signal</text>
<text transform="translate(288.2,171) rotate(-90)" font-family='"Liberation Sans", sans-serif' font-size="14.5" fill="#1a1a1a"><tspan font-style="italic">I</tspan><tspan font-size="10" dy="4.5">D</tspan><tspan dy="-4.5"> (A)</tspan></text>
<text x="0" y="0" font-family='"Liberation Serif", serif' font-size="27" fill="#111" text-anchor="start" font-weight="bold" font-style="normal" transform="translate(285.3,23.2) scale(0.9,1)">b</text>
<text x="376" y="63.3" font-family='"Liberation Sans", sans-serif' font-size="13.1" fill="#1a1a1a" text-anchor="start" font-weight="normal" font-style="normal" >WSe<tspan font-size="9.2" dy="3">2</tspan><tspan dy="-3">: XNOR</tspan></text>
<text x="392.4" y="150" font-family='"Liberation Sans", sans-serif' font-size="13" fill="#1a1a1a" text-anchor="start" font-weight="normal" font-style="normal" >BP: NOR</text>
<text x="381.5" y="241.9" font-family='"Liberation Sans", sans-serif' font-size="12.6" fill="#1a1a1a" text-anchor="start" font-weight="normal" font-style="normal" >MoS<tspan font-size="9" dy="3">2</tspan><tspan dy="-3">: OR</tspan></text>
<text x="547.8" y="104.5" font-family='"Liberation Sans", sans-serif' font-size="12.6" fill="#1a1a1a" text-anchor="end"><tspan font-style="italic">V</tspan><tspan font-size="9" dy="3.2">D</tspan><tspan dy="-3.2"> = 0.5 V</tspan></text>
<text x="546.2" y="126.4" font-family='"Liberation Sans", sans-serif' font-size="12.6" fill="#1a1a1a" text-anchor="end"><tspan font-style="italic">V</tspan><tspan font-size="9" dy="3.2">D</tspan><tspan dy="-3.2"> = 0.05 V</tspan></text>
<text x="547.8" y="278.2" font-family='"Liberation Sans", sans-serif' font-size="12.6" fill="#1a1a1a" text-anchor="end"><tspan font-style="italic">V</tspan><tspan font-size="9" dy="3.2">D</tspan><tspan dy="-3.2"> = 0.5 V</tspan></text>
<circle cx="343.5" cy="32.4" r="2.95" fill="#0a8a0a"/>
<circle cx="348.17" cy="32.76" r="2.95" fill="#0a8a0a"/>
<circle cx="352.83" cy="33.11" r="2.95" fill="#0a8a0a"/>
<circle cx="357.5" cy="33.47" r="2.95" fill="#0a8a0a"/>
<circle cx="362.17" cy="33.82" r="2.95" fill="#0a8a0a"/>
<circle cx="366.83" cy="34.18" r="2.95" fill="#0a8a0a"/>
<circle cx="371.5" cy="34.53" r="2.95" fill="#0a8a0a"/>
<circle cx="376.17" cy="34.89" r="2.95" fill="#0a8a0a"/>
<circle cx="380.83" cy="35.24" r="2.95" fill="#0a8a0a"/>
<circle cx="385.5" cy="35.6" r="2.95" fill="#0a8a0a"/>
<circle cx="503" cy="27" r="2.95" fill="#0a8a0a"/>
<circle cx="507.67" cy="27.27" r="2.95" fill="#0a8a0a"/>
<circle cx="512.33" cy="27.53" r="2.95" fill="#0a8a0a"/>
<circle cx="517" cy="27.8" r="2.95" fill="#0a8a0a"/>
<circle cx="521.67" cy="28.07" r="2.95" fill="#0a8a0a"/>
<circle cx="526.33" cy="28.33" r="2.95" fill="#0a8a0a"/>
<circle cx="531" cy="28.6" r="2.95" fill="#0a8a0a"/>
<circle cx="535.67" cy="28.87" r="2.95" fill="#0a8a0a"/>
<circle cx="540.33" cy="29.13" r="2.95" fill="#0a8a0a"/>
<circle cx="545" cy="29.4" r="2.95" fill="#0a8a0a"/>
<circle cx="389.4" cy="102.9" r="2.95" fill="#0a8a0a"/>
<circle cx="394.2" cy="99.2" r="2.95" fill="#0a8a0a"/>
<circle cx="398.5" cy="98.5" r="2.95" fill="#0a8a0a"/>
<circle cx="403.5" cy="91.3" r="2.95" fill="#0a8a0a"/>
<circle cx="407.9" cy="96.4" r="2.95" fill="#0a8a0a"/>
<circle cx="412.3" cy="97.9" r="2.95" fill="#0a8a0a"/>
<circle cx="417.1" cy="89.8" r="2.95" fill="#0a8a0a"/>
<circle cx="421.7" cy="93.7" r="2.95" fill="#0a8a0a"/>
<circle cx="426" cy="88.7" r="2.95" fill="#0a8a0a"/>
<circle cx="430.8" cy="94.8" r="2.95" fill="#0a8a0a"/>
<circle cx="446.5" cy="92.7" r="2.95" fill="#0a8a0a"/>
<circle cx="460.9" cy="91.3" r="2.95" fill="#0a8a0a"/>
<circle cx="465.7" cy="91.3" r="2.95" fill="#0a8a0a"/>
<circle cx="470.1" cy="94.8" r="2.95" fill="#0a8a0a"/>
<circle cx="474.5" cy="90.9" r="2.95" fill="#0a8a0a"/>
<circle cx="478.8" cy="92" r="2.95" fill="#0a8a0a"/>
<circle cx="483.2" cy="94.8" r="2.95" fill="#0a8a0a"/>
<circle cx="487.6" cy="94.8" r="2.95" fill="#0a8a0a"/>
<circle cx="493" cy="89.8" r="2.95" fill="#0a8a0a"/>
<circle cx="498" cy="90.5" r="2.95" fill="#0a8a0a"/>
<circle cx="342.6" cy="123.7" r="2.95" fill="#ff1010"/>
<circle cx="347.84" cy="124.09" r="2.95" fill="#ff1010"/>
<circle cx="353.09" cy="124.48" r="2.95" fill="#ff1010"/>
<circle cx="358.33" cy="124.87" r="2.95" fill="#ff1010"/>
<circle cx="363.58" cy="125.26" r="2.95" fill="#ff1010"/>
<circle cx="368.82" cy="125.64" r="2.95" fill="#ff1010"/>
<circle cx="374.07" cy="126.03" r="2.95" fill="#ff1010"/>
<circle cx="379.31" cy="126.42" r="2.95" fill="#ff1010"/>
<circle cx="384.56" cy="126.81" r="2.95" fill="#ff1010"/>
<circle cx="389.8" cy="127.2" r="2.95" fill="#ff1010"/>
<circle cx="395.2" cy="181.9" r="2.95" fill="#ff1010"/>
<circle cx="400.18" cy="181.69" r="2.95" fill="#ff1010"/>
<circle cx="405.16" cy="181.48" r="2.95" fill="#ff1010"/>
<circle cx="410.13" cy="181.27" r="2.95" fill="#ff1010"/>
<circle cx="415.11" cy="181.06" r="2.95" fill="#ff1010"/>
<circle cx="420.09" cy="180.84" r="2.95" fill="#ff1010"/>
<circle cx="425.07" cy="180.63" r="2.95" fill="#ff1010"/>
<circle cx="430.04" cy="180.42" r="2.95" fill="#ff1010"/>
<circle cx="435.02" cy="180.21" r="2.95" fill="#ff1010"/>
<circle cx="440" cy="180" r="2.95" fill="#ff1010"/>
<circle cx="444.5" cy="179.5" r="2.95" fill="#ff1010"/>
<circle cx="449.5" cy="178.81" r="2.95" fill="#ff1010"/>
<circle cx="454.5" cy="178.12" r="2.95" fill="#ff1010"/>
<circle cx="459.5" cy="177.43" r="2.95" fill="#ff1010"/>
<circle cx="464.5" cy="176.74" r="2.95" fill="#ff1010"/>
<circle cx="469.5" cy="176.05" r="2.95" fill="#ff1010"/>
<circle cx="474.5" cy="175.36" r="2.95" fill="#ff1010"/>
<circle cx="479.5" cy="174.67" r="2.95" fill="#ff1010"/>
<circle cx="484.5" cy="173.98" r="2.95" fill="#ff1010"/>
<circle cx="489.5" cy="173.29" r="2.95" fill="#ff1010"/>
<circle cx="494.5" cy="172.6" r="2.95" fill="#ff1010"/>
<circle cx="499" cy="171.2" r="2.95" fill="#ff1010"/>
<circle cx="503.6" cy="177.9" r="2.95" fill="#ff1010"/>
<circle cx="508.24" cy="178.24" r="2.95" fill="#ff1010"/>
<circle cx="512.89" cy="178.59" r="2.95" fill="#ff1010"/>
<circle cx="517.53" cy="178.93" r="2.95" fill="#ff1010"/>
<circle cx="522.18" cy="179.28" r="2.95" fill="#ff1010"/>
<circle cx="526.82" cy="179.62" r="2.95" fill="#ff1010"/>
<circle cx="531.47" cy="179.97" r="2.95" fill="#ff1010"/>
<circle cx="536.11" cy="180.31" r="2.95" fill="#ff1010"/>
<circle cx="540.76" cy="180.66" r="2.95" fill="#ff1010"/>
<circle cx="545.4" cy="181" r="2.95" fill="#ff1010"/>
<circle cx="401.8" cy="206" r="2.95" fill="#0a14ff"/>
<circle cx="406.16" cy="206" r="2.95" fill="#0a14ff"/>
<circle cx="410.51" cy="206" r="2.95" fill="#0a14ff"/>
<circle cx="414.87" cy="206" r="2.95" fill="#0a14ff"/>
<circle cx="419.22" cy="206" r="2.95" fill="#0a14ff"/>
<circle cx="423.58" cy="206" r="2.95" fill="#0a14ff"/>
<circle cx="427.93" cy="206" r="2.95" fill="#0a14ff"/>
<circle cx="432.29" cy="206" r="2.95" fill="#0a14ff"/>
<circle cx="436.64" cy="206" r="2.95" fill="#0a14ff"/>
<circle cx="441" cy="206" r="2.95" fill="#0a14ff"/>
<circle cx="453.3" cy="203" r="2.95" fill="#0a14ff"/>
<circle cx="466.6" cy="203.6" r="2.95" fill="#0a14ff"/>
<circle cx="471.44" cy="203.57" r="2.95" fill="#0a14ff"/>
<circle cx="476.29" cy="203.54" r="2.95" fill="#0a14ff"/>
<circle cx="481.13" cy="203.51" r="2.95" fill="#0a14ff"/>
<circle cx="485.97" cy="203.49" r="2.95" fill="#0a14ff"/>
<circle cx="490.81" cy="203.46" r="2.95" fill="#0a14ff"/>
<circle cx="495.66" cy="203.43" r="2.95" fill="#0a14ff"/>
<circle cx="500.5" cy="203.4" r="2.95" fill="#0a14ff"/>
<circle cx="503.6" cy="201.6" r="2.95" fill="#0a14ff"/>
<circle cx="508.07" cy="201.56" r="2.95" fill="#0a14ff"/>
<circle cx="512.53" cy="201.51" r="2.95" fill="#0a14ff"/>
<circle cx="517" cy="201.47" r="2.95" fill="#0a14ff"/>
<circle cx="521.47" cy="201.42" r="2.95" fill="#0a14ff"/>
<circle cx="525.93" cy="201.38" r="2.95" fill="#0a14ff"/>
<circle cx="530.4" cy="201.33" r="2.95" fill="#0a14ff"/>
<circle cx="534.87" cy="201.29" r="2.95" fill="#0a14ff"/>
<circle cx="539.33" cy="201.24" r="2.95" fill="#0a14ff"/>
<circle cx="543.8" cy="201.2" r="2.95" fill="#0a14ff"/>
<circle cx="343.9" cy="270" r="2.95" fill="#0a14ff"/>
<circle cx="348" cy="270.5" r="2.95" fill="#0a14ff"/>
<circle cx="352.5" cy="269.1" r="2.95" fill="#0a14ff"/>
<circle cx="356.6" cy="271.8" r="2.95" fill="#0a14ff"/>
<circle cx="360.7" cy="275.9" r="2.95" fill="#0a14ff"/>
<circle cx="364.8" cy="267.7" r="2.95" fill="#0a14ff"/>
<circle cx="368.9" cy="270.5" r="2.95" fill="#0a14ff"/>
<circle cx="373" cy="273.2" r="2.95" fill="#0a14ff"/>
<circle cx="377.5" cy="274.1" r="2.95" fill="#0a14ff"/>
<circle cx="382.1" cy="276.8" r="2.95" fill="#0a14ff"/>
<defs>
<linearGradient id="ySide" x1="0" y1="0" x2="1" y2="0">
<stop offset="0" stop-color="#d6be3a"/><stop offset="1" stop-color="#a8984a"/></linearGradient>
<linearGradient id="yFront" x1="0" y1="0" x2="0" y2="1">
<stop offset="0" stop-color="#f1da2e"/><stop offset="1" stop-color="#e6cc1e"/></linearGradient>
<linearGradient id="yFront1" x1="0" y1="0" x2="0" y2="1">
<stop offset="0" stop-color="#e2cf58"/><stop offset="1" stop-color="#d4bf40"/></linearGradient>
<linearGradient id="slabG" x1="0" y1="0" x2="1" y2="0">
<stop offset="0" stop-color="#626262"/><stop offset="1" stop-color="#454545"/></linearGradient>
<linearGradient id="bpG" x1="0" y1="0" x2="0" y2="1">
<stop offset="0" stop-color="#7c2aa6"/><stop offset="0.45" stop-color="#9444c2"/><stop offset="1" stop-color="#cdbde8"/></linearGradient>
<linearGradient id="alG" x1="0" y1="0" x2="0" y2="1">
<stop offset="0" stop-color="#7a28a8"/><stop offset="0.55" stop-color="#8a3cbc"/><stop offset="1" stop-color="#c4b2e4"/></linearGradient>
<linearGradient id="pmG" x1="0" y1="0" x2="1" y2="0">
<stop offset="0" stop-color="#c48ec2"/><stop offset="1" stop-color="#dcbce6"/></linearGradient>
<linearGradient id="e3side" x1="0" y1="0" x2="1" y2="0">
<stop offset="0" stop-color="#7f9a94"/><stop offset="1" stop-color="#9cb8b6"/></linearGradient>
<linearGradient id="alTop" x1="0" y1="0" x2="0" y2="1">
<stop offset="0" stop-color="#c2e6e8"/><stop offset="0.45" stop-color="#b6d4e0"/><stop offset="1" stop-color="#aebcd8"/></linearGradient>
<clipPath id="alTopClip"><polygon points="131.4,435.4 161.3,419.6 206.2,423.6 193.5,446.4 192,453.2 131.5,448.3"/></clipPath>
<clipPath id="bpClip"><polygon points="53.3,433.6 92.3,438 92.6,458 54.4,452.6"/></clipPath>
<clipPath id="alClip"><polygon points="131.5,448.3 192,453.2 191.6,479.5 131.5,469.8"/></clipPath>
</defs>
<polygon points="36,451.8 116,426 226,451.4 222.6,490.5" fill="#ccc3e8" />
<polygon points="36,451.8 222.6,490.5 222.6,499.5 36,455.6" fill="#c6bde2" />
<polygon points="36,455.6 222.6,499.5 222.6,513.2 36,462.8" fill="url(#slabG)" />
<polygon points="53.4,427.4 99.3,418.8 130,418.6 92.3,431" fill="url(#pmG)" />
<polygon points="42.4,423 99.3,412.2 99.3,416.6 53.4,425.4" fill="#ddd3a2" />
<polygon points="53.4,425.4 99.3,416.6 99.3,418.8 53.4,427.4" fill="#a8603e" />
<polygon points="42.4,423.5 52.6,423.5 54.2,451.9 44.8,451.3" fill="url(#yFront1)" />
<polygon points="53.4,427.4 92.3,431 92.3,438 53.3,433.6" fill="#d39ad0" />
<polygon points="53.3,433.6 92.3,438 92.6,458 54.4,452.6" fill="url(#bpG)" />
<g clip-path="url(#bpClip)"><circle cx="52.95" cy="436.06" r="1.2" fill="#7a24ac"/><circle cx="56.35" cy="436.36" r="1.2" fill="#5c1890"/><circle cx="59.78" cy="436.11" r="1.2" fill="#7a24ac"/><circle cx="63" cy="435.59" r="1.2" fill="#5c1890"/><circle cx="66.73" cy="436.1" r="1.2" fill="#7a24ac"/><circle cx="70.15" cy="436.12" r="1.2" fill="#6a1c9c"/><circle cx="73.73" cy="435.56" r="1.2" fill="#6a1c9c"/><circle cx="76.9" cy="436.28" r="1.2" fill="#5c1890"/><circle cx="80.54" cy="436.02" r="1.2" fill="#7a24ac"/><circle cx="83.1" cy="435.58" r="1.2" fill="#7a24ac"/><circle cx="87.5" cy="436.5" r="1.2" fill="#5c1890"/><circle cx="90.15" cy="436.26" r="1.2" fill="#6a1c9c"/><circle cx="54.27" cy="439.27" r="1.2" fill="#7a24ac"/><circle cx="57.99" cy="439.46" r="1.2" fill="#6a1c9c"/><circle cx="61.21" cy="439.43" r="1.2" fill="#7a24ac"/><circle cx="65.38" cy="438.9" r="1.2" fill="#5c1890"/><circle cx="68" cy="439.17" r="1.2" fill="#7a24ac"/><circle cx="71.53" cy="439.46" r="1.2" fill="#6a1c9c"/><circle cx="74.73" cy="439.21" r="1.2" fill="#7a24ac"/><circle cx="78.8" cy="438.68" r="1.2" fill="#7a24ac"/><circle cx="81.91" cy="439.49" r="1.2" fill="#7a24ac"/><circle cx="85.44" cy="438.62" r="1.2" fill="#6a1c9c"/><circle cx="88.2" cy="439.36" r="1.2" fill="#5c1890"/><circle cx="91.9" cy="439.38" r="1.2" fill="#7a24ac"/><circle cx="53.5" cy="442.1" r="1.2" fill="#6a1c9c"/><circle cx="56.89" cy="441.71" r="1.2" fill="#5c1890"/><circle cx="59.63" cy="441.8" r="1.2" fill="#6a1c9c"/><circle cx="62.91" cy="442.14" r="1.2" fill="#7a24ac"/><circle cx="66.47" cy="441.95" r="1.2" fill="#7a24ac"/><circle cx="70.33" cy="441.64" r="1.2" fill="#5c1890"/><circle cx="73.05" cy="442.41" r="1.2" fill="#6a1c9c"/><circle cx="77.03" cy="441.66" r="1.2" fill="#5c1890"/><circle cx="79.9" cy="442.45" r="1.2" fill="#5c1890"/><circle cx="83.18" cy="441.55" r="1.2" fill="#5c1890"/><circle cx="87.46" cy="441.74" r="1.2" fill="#7a24ac"/><circle cx="90.32" cy="442.4" r="1.2" fill="#5c1890"/><circle cx="54.38" cy="445.22" r="1.2" fill="#6a1c9c"/><circle cx="58.08" cy="445.15" r="1.2" fill="#6a1c9c"/><circle cx="61.28" cy="445.42" r="1.2" fill="#6a1c9c"/><circle cx="64.47" cy="444.91" r="1.2" fill="#6a1c9c"/><circle cx="67.98" cy="444.87" r="1.2" fill="#6a1c9c"/><circle cx="71.29" cy="444.64" r="1.2" fill="#7a24ac"/><circle cx="75.26" cy="445.19" r="1.2" fill="#6a1c9c"/><circle cx="78.59" cy="445.42" r="1.2" fill="#7a24ac"/><circle cx="82.1" cy="445.46" r="1.2" fill="#5c1890"/><circle cx="84.87" cy="444.57" r="1.2" fill="#6a1c9c"/><circle cx="89.2" cy="444.58" r="1.2" fill="#5c1890"/><circle cx="91.64" cy="445.44" r="1.2" fill="#6a1c9c"/><circle cx="53.29" cy="448.42" r="1.2" fill="#5c1890"/><circle cx="60.24" cy="447.53" r="1.2" fill="#6a1c9c"/><circle cx="76.74" cy="448.34" r="1.2" fill="#5c1890"/><circle cx="79.73" cy="448.1" r="1.2" fill="#6a1c9c"/><circle cx="84.06" cy="447.61" r="1.2" fill="#5c1890"/><circle cx="87.42" cy="447.76" r="1.2" fill="#7a24ac"/><circle cx="90.04" cy="448.11" r="1.2" fill="#7a24ac"/><circle cx="57.93" cy="451.17" r="1.2" fill="#7a24ac"/><circle cx="61.8" cy="451.25" r="1.2" fill="#6a1c9c"/><circle cx="64.78" cy="451.08" r="1.2" fill="#6a1c9c"/><circle cx="75.42" cy="450.61" r="1.2" fill="#6a1c9c"/><circle cx="78.83" cy="450.88" r="1.2" fill="#5c1890"/><circle cx="85.25" cy="450.57" r="1.2" fill="#5c1890"/><circle cx="91.91" cy="451.29" r="1.2" fill="#6a1c9c"/><circle cx="60.28" cy="453.62" r="1.2" fill="#5c1890"/><circle cx="66.78" cy="453.7" r="1.2" fill="#6a1c9c"/><circle cx="70.21" cy="454.26" r="1.2" fill="#6a1c9c"/><circle cx="73.08" cy="453.77" r="1.2" fill="#5c1890"/><circle cx="86.89" cy="453.95" r="1.2" fill="#6a1c9c"/><circle cx="55" cy="457.44" r="1.2" fill="#5c1890"/><circle cx="61.8" cy="457.42" r="1.2" fill="#6a1c9c"/><circle cx="68.34" cy="457.29" r="1.2" fill="#5c1890"/><circle cx="72.06" cy="456.85" r="1.2" fill="#7a24ac"/><circle cx="74.94" cy="456.92" r="1.2" fill="#6a1c9c"/><circle cx="78.22" cy="457.37" r="1.2" fill="#6a1c9c"/><circle cx="84.94" cy="456.65" r="1.2" fill="#5c1890"/><circle cx="88.72" cy="457.18" r="1.2" fill="#7a24ac"/></g>
<polygon points="53.3,433.6 68,435.3 69,450 54.4,448" fill="#a05050" stroke="none" stroke-width="1" opacity="0.35"/>
<polygon points="92.3,431 104.5,431 142,418.8 130,418.6" fill="#ddd6a6" />
<polygon points="104.5,431 142,418.8 142,450 104.6,464" fill="url(#ySide)" />
<polygon points="92.3,431 104.5,431 104.6,464 93,462.6" fill="url(#yFront)" />
<polygon points="117.2,435.4 131.4,435.4 161.3,419.6 148.4,418.8" fill="#dcd3a2" />
<polygon points="131.4,435.4 161.3,419.6 206.2,423.6 193.5,446.4 192,453.2 131.5,448.3" fill="url(#alTop)" />
<polygon points="131.4,435.4 161.3,419.6 161.3,436 131.4,448.3" fill="url(#e3side)" />
<g clip-path="url(#alTopClip)"><line x1="153" y1="452" x2="162" y2="424" stroke="#a4a8dc" stroke-width="1.5" opacity="0.55"/><line x1="157.6" y1="452" x2="166.6" y2="424" stroke="#a4a8dc" stroke-width="1.5" opacity="0.55"/><line x1="162.2" y1="452" x2="171.2" y2="424" stroke="#a4a8dc" stroke-width="1.5" opacity="0.55"/><line x1="166.8" y1="452" x2="175.8" y2="424" stroke="#a4a8dc" stroke-width="1.5" opacity="0.55"/><line x1="171.4" y1="452" x2="180.4" y2="424" stroke="#a4a8dc" stroke-width="1.5" opacity="0.55"/><line x1="176" y1="452" x2="185" y2="424" stroke="#a4a8dc" stroke-width="1.5" opacity="0.55"/><line x1="180.6" y1="452" x2="189.6" y2="424" stroke="#a4a8dc" stroke-width="1.5" opacity="0.55"/><line x1="185.2" y1="452" x2="194.2" y2="424" stroke="#a4a8dc" stroke-width="1.5" opacity="0.55"/><line x1="189.8" y1="452" x2="198.8" y2="424" stroke="#a4a8dc" stroke-width="1.5" opacity="0.55"/><line x1="194.4" y1="452" x2="203.4" y2="424" stroke="#a4a8dc" stroke-width="1.5" opacity="0.55"/></g>
<polygon points="131.5,448.3 192,453.2 191.6,479.5 131.5,469.8" fill="url(#alG)" />
<g clip-path="url(#alClip)"><circle cx="131.02" cy="450.31" r="1.2" fill="#6c22a2"/><circle cx="134.07" cy="450.21" r="1.2" fill="#6c22a2"/><circle cx="137.41" cy="449.53" r="1.2" fill="#7a2cb0"/><circle cx="141.12" cy="450.36" r="1.2" fill="#7a2cb0"/><circle cx="144.95" cy="450.45" r="1.2" fill="#7a2cb0"/><circle cx="147.56" cy="450.31" r="1.2" fill="#5e1a92"/><circle cx="151.78" cy="450.03" r="1.2" fill="#7a2cb0"/><circle cx="154.51" cy="450.04" r="1.2" fill="#7a2cb0"/><circle cx="157.77" cy="449.91" r="1.2" fill="#6c22a2"/><circle cx="161.74" cy="450.1" r="1.2" fill="#6c22a2"/><circle cx="165.31" cy="450.42" r="1.2" fill="#6c22a2"/><circle cx="168.47" cy="450.4" r="1.2" fill="#5e1a92"/><circle cx="172.26" cy="449.87" r="1.2" fill="#6c22a2"/><circle cx="174.94" cy="450.06" r="1.2" fill="#7a2cb0"/><circle cx="179.06" cy="449.56" r="1.2" fill="#6c22a2"/><circle cx="181.69" cy="450.1" r="1.2" fill="#7a2cb0"/><circle cx="185.8" cy="449.75" r="1.2" fill="#6c22a2"/><circle cx="188.62" cy="449.83" r="1.2" fill="#7a2cb0"/><circle cx="192.48" cy="449.84" r="1.2" fill="#6c22a2"/><circle cx="132.22" cy="453.24" r="1.2" fill="#5e1a92"/><circle cx="136.33" cy="452.81" r="1.2" fill="#7a2cb0"/><circle cx="139.91" cy="452.52" r="1.2" fill="#7a2cb0"/><circle cx="142.54" cy="452.98" r="1.2" fill="#7a2cb0"/><circle cx="146.62" cy="452.68" r="1.2" fill="#5e1a92"/><circle cx="149.88" cy="453.41" r="1.2" fill="#7a2cb0"/><circle cx="152.91" cy="453.39" r="1.2" fill="#6c22a2"/><circle cx="156.05" cy="453.43" r="1.2" fill="#6c22a2"/><circle cx="160.24" cy="453.16" r="1.2" fill="#5e1a92"/><circle cx="163.34" cy="453.04" r="1.2" fill="#5e1a92"/><circle cx="166.73" cy="452.77" r="1.2" fill="#6c22a2"/><circle cx="169.65" cy="453.39" r="1.2" fill="#6c22a2"/><circle cx="173.22" cy="452.91" r="1.2" fill="#5e1a92"/><circle cx="177.37" cy="453.25" r="1.2" fill="#6c22a2"/><circle cx="180.62" cy="453.47" r="1.2" fill="#7a2cb0"/><circle cx="183.78" cy="453.02" r="1.2" fill="#6c22a2"/><circle cx="187.56" cy="452.67" r="1.2" fill="#5e1a92"/><circle cx="190.61" cy="452.87" r="1.2" fill="#5e1a92"/><circle cx="130.8" cy="455.86" r="1.2" fill="#7a2cb0"/><circle cx="134.01" cy="455.51" r="1.2" fill="#7a2cb0"/><circle cx="137.85" cy="455.68" r="1.2" fill="#7a2cb0"/><circle cx="140.84" cy="456.05" r="1.2" fill="#6c22a2"/><circle cx="144.36" cy="456.49" r="1.2" fill="#6c22a2"/><circle cx="147.84" cy="455.83" r="1.2" fill="#5e1a92"/><circle cx="151.42" cy="456.2" r="1.2" fill="#6c22a2"/><circle cx="155.01" cy="455.8" r="1.2" fill="#5e1a92"/><circle cx="158.48" cy="456.32" r="1.2" fill="#6c22a2"/><circle cx="161.64" cy="456.26" r="1.2" fill="#7a2cb0"/><circle cx="164.53" cy="455.9" r="1.2" fill="#5e1a92"/><circle cx="168.64" cy="455.56" r="1.2" fill="#6c22a2"/><circle cx="171.57" cy="455.85" r="1.2" fill="#6c22a2"/><circle cx="175.11" cy="455.51" r="1.2" fill="#6c22a2"/><circle cx="178.18" cy="456.25" r="1.2" fill="#7a2cb0"/><circle cx="182.23" cy="455.78" r="1.2" fill="#6c22a2"/><circle cx="185.03" cy="456.34" r="1.2" fill="#6c22a2"/><circle cx="188.74" cy="455.75" r="1.2" fill="#6c22a2"/><circle cx="192.01" cy="455.7" r="1.2" fill="#5e1a92"/><circle cx="132.7" cy="459.47" r="1.2" fill="#6c22a2"/><circle cx="135.68" cy="458.94" r="1.2" fill="#7a2cb0"/><circle cx="139.6" cy="459.4" r="1.2" fill="#5e1a92"/><circle cx="142.56" cy="459.03" r="1.2" fill="#6c22a2"/><circle cx="146.76" cy="458.91" r="1.2" fill="#5e1a92"/><circle cx="150.1" cy="458.65" r="1.2" fill="#7a2cb0"/><circle cx="152.92" cy="459.26" r="1.2" fill="#5e1a92"/><circle cx="156.29" cy="458.74" r="1.2" fill="#5e1a92"/><circle cx="159.77" cy="459.14" r="1.2" fill="#5e1a92"/><circle cx="163.23" cy="459.39" r="1.2" fill="#5e1a92"/><circle cx="166.27" cy="458.8" r="1.2" fill="#6c22a2"/><circle cx="169.92" cy="459.46" r="1.2" fill="#6c22a2"/><circle cx="173.38" cy="458.83" r="1.2" fill="#7a2cb0"/><circle cx="176.54" cy="458.6" r="1.2" fill="#7a2cb0"/><circle cx="180.43" cy="459.4" r="1.2" fill="#5e1a92"/><circle cx="183.41" cy="459.37" r="1.2" fill="#6c22a2"/><circle cx="186.98" cy="459.44" r="1.2" fill="#7a2cb0"/><circle cx="190.2" cy="458.82" r="1.2" fill="#7a2cb0"/><circle cx="137.75" cy="462.27" r="1.2" fill="#6c22a2"/><circle cx="140.91" cy="461.71" r="1.2" fill="#7a2cb0"/><circle cx="145.04" cy="461.73" r="1.2" fill="#6c22a2"/><circle cx="147.57" cy="462.16" r="1.2" fill="#7a2cb0"/><circle cx="151.68" cy="462.44" r="1.2" fill="#6c22a2"/><circle cx="155.11" cy="461.59" r="1.2" fill="#6c22a2"/><circle cx="158.47" cy="461.73" r="1.2" fill="#6c22a2"/><circle cx="161.43" cy="462.37" r="1.2" fill="#6c22a2"/><circle cx="165.45" cy="462.43" r="1.2" fill="#6c22a2"/><circle cx="167.91" cy="461.6" r="1.2" fill="#7a2cb0"/><circle cx="171.78" cy="462.46" r="1.2" fill="#5e1a92"/><circle cx="174.96" cy="461.63" r="1.2" fill="#5e1a92"/><circle cx="178.14" cy="461.62" r="1.2" fill="#5e1a92"/><circle cx="182.4" cy="462.35" r="1.2" fill="#7a2cb0"/><circle cx="185.21" cy="461.88" r="1.2" fill="#7a2cb0"/><circle cx="188.33" cy="462.15" r="1.2" fill="#6c22a2"/><circle cx="192.23" cy="462.42" r="1.2" fill="#6c22a2"/><circle cx="132.49" cy="464.85" r="1.2" fill="#5e1a92"/><circle cx="136.37" cy="464.61" r="1.2" fill="#6c22a2"/><circle cx="163.64" cy="464.52" r="1.2" fill="#5e1a92"/><circle cx="166.34" cy="464.72" r="1.2" fill="#6c22a2"/><circle cx="169.9" cy="464.83" r="1.2" fill="#5e1a92"/><circle cx="173.38" cy="465.13" r="1.2" fill="#6c22a2"/><circle cx="176.94" cy="464.82" r="1.2" fill="#5e1a92"/><circle cx="180.67" cy="464.59" r="1.2" fill="#6c22a2"/><circle cx="183.81" cy="464.62" r="1.2" fill="#7a2cb0"/><circle cx="186.75" cy="465.46" r="1.2" fill="#7a2cb0"/><circle cx="190.04" cy="464.65" r="1.2" fill="#7a2cb0"/><circle cx="138.1" cy="467.99" r="1.2" fill="#7a2cb0"/><circle cx="151.37" cy="468.29" r="1.2" fill="#5e1a92"/><circle cx="155.13" cy="468.25" r="1.2" fill="#6c22a2"/><circle cx="161.3" cy="467.62" r="1.2" fill="#5e1a92"/><circle cx="165.39" cy="468.37" r="1.2" fill="#6c22a2"/><circle cx="178.91" cy="468.17" r="1.2" fill="#6c22a2"/><circle cx="185.73" cy="468.07" r="1.2" fill="#5e1a92"/><circle cx="188.43" cy="468.4" r="1.2" fill="#5e1a92"/><circle cx="192.42" cy="468.42" r="1.2" fill="#5e1a92"/><circle cx="135.7" cy="470.69" r="1.2" fill="#5e1a92"/><circle cx="139.61" cy="471.45" r="1.2" fill="#6c22a2"/><circle cx="142.62" cy="470.92" r="1.2" fill="#7a2cb0"/><circle cx="146.53" cy="470.95" r="1.2" fill="#5e1a92"/><circle cx="149.45" cy="470.75" r="1.2" fill="#7a2cb0"/><circle cx="153.32" cy="470.76" r="1.2" fill="#7a2cb0"/><circle cx="160.15" cy="471.45" r="1.2" fill="#5e1a92"/><circle cx="162.83" cy="470.61" r="1.2" fill="#6c22a2"/><circle cx="177.11" cy="471.32" r="1.2" fill="#6c22a2"/><circle cx="184.04" cy="470.56" r="1.2" fill="#7a2cb0"/><circle cx="190.65" cy="470.66" r="1.2" fill="#6c22a2"/><circle cx="134.24" cy="474.47" r="1.2" fill="#7a2cb0"/><circle cx="141.33" cy="474.21" r="1.2" fill="#7a2cb0"/><circle cx="147.96" cy="473.81" r="1.2" fill="#7a2cb0"/><circle cx="154.34" cy="474.23" r="1.2" fill="#5e1a92"/><circle cx="164.66" cy="474.35" r="1.2" fill="#5e1a92"/><circle cx="168.71" cy="474.33" r="1.2" fill="#5e1a92"/><circle cx="171.91" cy="474.3" r="1.2" fill="#5e1a92"/><circle cx="175.51" cy="474.4" r="1.2" fill="#7a2cb0"/><circle cx="178.74" cy="473.91" r="1.2" fill="#6c22a2"/><circle cx="182.09" cy="474.03" r="1.2" fill="#5e1a92"/><circle cx="185.56" cy="474.46" r="1.2" fill="#5e1a92"/><circle cx="189.27" cy="474.34" r="1.2" fill="#6c22a2"/><circle cx="132.36" cy="477.49" r="1.2" fill="#5e1a92"/><circle cx="136.25" cy="476.56" r="1.2" fill="#7a2cb0"/><circle cx="145.83" cy="476.53" r="1.2" fill="#6c22a2"/><circle cx="163.37" cy="477.03" r="1.2" fill="#6c22a2"/><circle cx="167.15" cy="477.31" r="1.2" fill="#7a2cb0"/><circle cx="170.33" cy="477.05" r="1.2" fill="#6c22a2"/><circle cx="177.01" cy="477.09" r="1.2" fill="#6c22a2"/><circle cx="183.41" cy="476.51" r="1.2" fill="#6c22a2"/><circle cx="131.44" cy="480" r="1.2" fill="#7a2cb0"/><circle cx="134.12" cy="479.66" r="1.2" fill="#7a2cb0"/><circle cx="141.56" cy="479.61" r="1.2" fill="#5e1a92"/><circle cx="144.3" cy="480.29" r="1.2" fill="#6c22a2"/><circle cx="158.19" cy="480.19" r="1.2" fill="#6c22a2"/><circle cx="185.82" cy="479.81" r="1.2" fill="#7a2cb0"/><circle cx="192.64" cy="480.44" r="1.2" fill="#5e1a92"/></g>
<circle cx="151.81" cy="455.39" r="1" fill="#86dce6"/>
<circle cx="169.8" cy="455.65" r="1" fill="#86dce6"/>
<circle cx="163.47" cy="459.54" r="1" fill="#86dce6"/>
<circle cx="137.19" cy="459.57" r="1" fill="#86dce6"/>
<circle cx="136.06" cy="458.37" r="1" fill="#86dce6"/>
<circle cx="137.84" cy="453.37" r="1" fill="#86dce6"/>
<circle cx="157.35" cy="465.97" r="1" fill="#86dce6"/>
<circle cx="140.81" cy="455.59" r="1" fill="#86dce6"/>
<circle cx="168.51" cy="468.68" r="1" fill="#86dce6"/>
<circle cx="165.74" cy="460.19" r="1" fill="#86dce6"/>
<circle cx="187.69" cy="456.69" r="1" fill="#86dce6"/>
<circle cx="181.22" cy="459.82" r="1" fill="#86dce6"/>
<circle cx="141.93" cy="454.1" r="1" fill="#86dce6"/>
<circle cx="150.97" cy="465.3" r="1" fill="#86dce6"/>
<circle cx="143.94" cy="461.22" r="1" fill="#86dce6"/>
<circle cx="169.14" cy="460.1" r="1" fill="#86dce6"/>
<polygon points="117.2,435.4 131.4,435.4 131.5,469.8 117.7,469" fill="url(#yFront)" />
<polygon points="193.5,446.6 217,447 221.5,424 206.2,423.6" fill="#cfc7a0" />
<polygon points="193.5,446.6 215.4,447.4 209.6,487.4 191.3,484.6" fill="url(#yFront)" />
<text x="43.4" y="435.8" font-family='"Liberation Sans", sans-serif' font-size="6.6" fill="#222" text-anchor="start" font-weight="bold" font-style="normal" >Ni/</text>
<text x="43.8" y="444.6" font-family='"Liberation Sans", sans-serif' font-size="6.6" fill="#222" text-anchor="start" font-weight="bold" font-style="normal" >Au</text>
<text x="94.2" y="444.8" font-family='"Liberation Sans", sans-serif' font-size="7" fill="#222" text-anchor="start" font-weight="bold" font-style="normal" >Ni/</text>
<text x="94.6" y="455.2" font-family='"Liberation Sans", sans-serif' font-size="7" fill="#222" text-anchor="start" font-weight="bold" font-style="normal" >Au</text>
<text x="119.3" y="450" font-family='"Liberation Sans", sans-serif' font-size="7" fill="#222" text-anchor="start" font-weight="bold" font-style="normal" >Ti/</text>
<text x="119.6" y="459.4" font-family='"Liberation Sans", sans-serif' font-size="7" fill="#222" text-anchor="start" font-weight="bold" font-style="normal" >Au</text>
<text x="194.6" y="471" font-family='"Liberation Sans", sans-serif' font-size="7.8" fill="#222" text-anchor="start" font-weight="bold" font-style="normal" >Ti/Au</text>
<text x="64.2" y="438.2" font-family='"Liberation Sans", sans-serif' font-size="12" fill="#1a1020" text-anchor="start" font-weight="bold" font-style="normal" textLength="24.5" lengthAdjust="spacingAndGlyphs">PMMA</text>
<text x="151.8" y="451.2" font-family='"Liberation Sans", sans-serif' font-size="8.6" fill="#1a1a2a" text-anchor="start" font-weight="bold" font-style="normal" >Al<tspan font-size="5" dy="1.5">2</tspan><tspan dy="-1.5">O</tspan><tspan font-size="5" dy="1.5">3</tspan></text>
<text x="113.6" y="474" font-family='"Liberation Sans", sans-serif' font-size="7.4" fill="#1c1448" text-anchor="start" font-weight="bold" font-style="italic" >HfO<tspan font-size="5" dy="1.6">2</tspan></text>
<text x="110.6" y="482.6" font-family='"Liberation Sans", sans-serif' font-size="7.4" fill="#1c1448" text-anchor="start" font-weight="bold" font-style="italic" >P+ Si</text>
<text x="26.9" y="407.2" font-family='"Liberation Sans", sans-serif' font-size="9" fill="#222" text-anchor="start" font-weight="bold" font-style="normal" >BP</text>
<text x="57.6" y="401.8" font-family='"Liberation Sans", sans-serif' font-size="11" fill="#111" text-anchor="start" font-weight="bold" font-style="normal" >V<tspan font-size="7" dy="2.5">DD</tspan></text>
<text x="121.7" y="400" font-family='"Liberation Sans", sans-serif' font-size="11" fill="#111" text-anchor="start" font-weight="bold" font-style="normal" >V<tspan font-size="7" dy="2.5">out</tspan></text>
<text x="201.4" y="413.8" font-family='"Liberation Sans", sans-serif' font-size="8.7" fill="#222" text-anchor="start" font-weight="bold" font-style="normal" >GND</text>
<text x="54.4" y="504.6" font-family='"Liberation Sans", sans-serif' font-size="11.8" fill="#111" text-anchor="start" font-weight="bold" font-style="normal" >V<tspan font-size="8" dy="2.8">in</tspan></text>
<text x="125.2" y="519.6" font-family='"Liberation Sans", sans-serif' font-size="9.8" fill="#222" text-anchor="start" font-weight="bold" font-style="normal" textLength="53" lengthAdjust="spacingAndGlyphs">Al- doped BP</text>
<circle cx="67.2" cy="409.8" r="1.5" fill="white" stroke="#555" stroke-width="0.9"/>
<line x1="67.2" y1="411.3" x2="67.2" y2="419.5" stroke="#555" stroke-width="1.2" />
<circle cx="131.3" cy="407.6" r="1.5" fill="white" stroke="#555" stroke-width="0.9"/>
<polyline points="118.2,423.2 118.2,416 141.7,416 141.7,424.6" fill="none" stroke="#333" stroke-width="1.2" stroke-linejoin="round" stroke-linecap="round" stroke-linecap="butt" stroke-linejoin="miter"/>
<line x1="131.3" y1="409.1" x2="131.3" y2="416" stroke="#333" stroke-width="1.2" />
<line x1="210.5" y1="417.3" x2="212.3" y2="417.3" stroke="#555" stroke-width="0.9" />
<line x1="209.1" y1="419.5" x2="214.5" y2="419.5" stroke="#555" stroke-width="0.9" />
<line x1="206.4" y1="421.8" x2="217.3" y2="421.8" stroke="#555" stroke-width="1" />
<line x1="211.4" y1="421.8" x2="211.4" y2="433.6" stroke="#333" stroke-width="1.1" />
<polyline points="101,480.5 101,498 75.6,498" fill="none" stroke="#555" stroke-width="1.1" stroke-linejoin="round" stroke-linecap="round" stroke-linecap="butt" stroke-linejoin="miter"/>
<circle cx="74" cy="498" r="1.5" fill="white" stroke="#555" stroke-width="0.9"/>
<line x1="38" y1="409.9" x2="66" y2="439.8" stroke="#ff7f1e" stroke-width="1.5" />
<polygon points="68.4,442.4 62.6,439.6 66.6,435.8" fill="#ff7f1e" />
<line x1="155.5" y1="507.5" x2="173.6" y2="472" stroke="#f4b400" stroke-width="1.5" />
<polygon points="175.2,468.6 170.8,473.2 175.6,474.6" fill="#f4b400" />
<line x1="248" y1="353.1" x2="266.5" y2="353.1" stroke="#333" stroke-width="1.3" />
<line x1="257.8" y1="353.1" x2="257.8" y2="367.3" stroke="#333" stroke-width="1.3" />
<line x1="252.4" y1="367.3" x2="257.8" y2="367.3" stroke="#333" stroke-width="1.3" />
<line x1="252.4" y1="363.5" x2="252.4" y2="386.5" stroke="#333" stroke-width="1.3" />
<line x1="252.4" y1="382.5" x2="257.8" y2="382.5" stroke="#333" stroke-width="1.3" />
<line x1="257.8" y1="382.5" x2="257.8" y2="400.3" stroke="#333" stroke-width="1.3" />
<line x1="249.6" y1="365.5" x2="249.6" y2="384.5" stroke="#333" stroke-width="1.3" />
<circle cx="247.6" cy="375" r="1.6" fill="white" stroke="#333" stroke-width="1"/>
<line x1="240.2" y1="375" x2="246" y2="375" stroke="#333" stroke-width="1.3" />
<line x1="240.2" y1="375" x2="240.2" y2="405.6" stroke="#333" stroke-width="1.3" />
<line x1="240.2" y1="405.6" x2="249.6" y2="405.6" stroke="#333" stroke-width="1.3" />
<line x1="224" y1="391.3" x2="240.2" y2="391.3" stroke="#333" stroke-width="1.3" />
<line x1="249.6" y1="397" x2="249.6" y2="414.5" stroke="#333" stroke-width="1.3" />
<line x1="252.4" y1="395.5" x2="252.4" y2="417" stroke="#333" stroke-width="1.3" />
<line x1="252.4" y1="400.3" x2="257.8" y2="400.3" stroke="#333" stroke-width="1.3" />
<line x1="252.4" y1="412.3" x2="257.8" y2="412.3" stroke="#333" stroke-width="1.3" />
<line x1="257.8" y1="412.3" x2="257.8" y2="427.3" stroke="#333" stroke-width="1.3" />
<line x1="257.8" y1="391.3" x2="273" y2="391.3" stroke="#333" stroke-width="1.3" />
<polygon points="273,387.8 273,394.8 280.3,391.3" fill="white" stroke="#333" stroke-width="1.1" />
<polygon points="254.5,427.3 261.1,427.3 257.8,433.8" fill="white" stroke="#333" stroke-width="1.1" />
<text x="269.6" y="357.6" font-family='"Liberation Sans", sans-serif' font-size="11.2" fill="#111" text-anchor="start" font-weight="bold" font-style="italic" >V<tspan font-size="7.5" dy="2.5">DD</tspan></text>
<text x="209.6" y="394.6" font-family='"Liberation Sans", sans-serif' font-size="11.2" fill="#111" text-anchor="start" font-weight="bold" font-style="italic" >V<tspan font-size="8" dy="3.5">in</tspan></text>
<text x="286" y="394.6" font-family='"Liberation Sans", sans-serif' font-size="11.2" fill="#111" text-anchor="start" font-weight="bold" font-style="italic" >V<tspan font-size="8" dy="3.5">out</tspan></text>
<text x="267.3" y="435.1" font-family='"Liberation Sans", sans-serif' font-size="11.2" fill="#111" text-anchor="start" font-weight="bold" font-style="italic" >GND</text>
<text x="9.4" y="378.5" font-family='"Liberation Serif", serif' font-size="27" fill="#111" text-anchor="start" font-weight="bold" font-style="normal" >c</text>
<line x1="369.6" y1="508.2" x2="371.6" y2="508.2" stroke="#111" stroke-width="0.9" />
<line x1="369.6" y1="503.35" x2="371.6" y2="503.35" stroke="#111" stroke-width="0.9" />
<line x1="369.6" y1="499.91" x2="371.6" y2="499.91" stroke="#111" stroke-width="0.9" />
<line x1="369.6" y1="497.24" x2="371.6" y2="497.24" stroke="#111" stroke-width="0.9" />
<line x1="369.6" y1="495.05" x2="371.6" y2="495.05" stroke="#111" stroke-width="0.9" />
<line x1="369.6" y1="493.21" x2="371.6" y2="493.21" stroke="#111" stroke-width="0.9" />
<line x1="369.6" y1="491.61" x2="371.6" y2="491.61" stroke="#111" stroke-width="0.9" />
<line x1="369.6" y1="490.2" x2="371.6" y2="490.2" stroke="#111" stroke-width="0.9" />
<line x1="369.6" y1="488.94" x2="373.1" y2="488.94" stroke="#111" stroke-width="0.9" />
<line x1="369.6" y1="480.64" x2="371.6" y2="480.64" stroke="#111" stroke-width="0.9" />
<line x1="369.6" y1="475.79" x2="371.6" y2="475.79" stroke="#111" stroke-width="0.9" />
<line x1="369.6" y1="472.35" x2="371.6" y2="472.35" stroke="#111" stroke-width="0.9" />
<line x1="369.6" y1="469.68" x2="371.6" y2="469.68" stroke="#111" stroke-width="0.9" />
<line x1="369.6" y1="467.49" x2="371.6" y2="467.49" stroke="#111" stroke-width="0.9" />
<line x1="369.6" y1="465.65" x2="371.6" y2="465.65" stroke="#111" stroke-width="0.9" />
<line x1="369.6" y1="464.05" x2="371.6" y2="464.05" stroke="#111" stroke-width="0.9" />
<line x1="369.6" y1="462.64" x2="371.6" y2="462.64" stroke="#111" stroke-width="0.9" />
<line x1="369.6" y1="461.38" x2="373.1" y2="461.38" stroke="#111" stroke-width="0.9" />
<line x1="369.6" y1="453.08" x2="371.6" y2="453.08" stroke="#111" stroke-width="0.9" />
<line x1="369.6" y1="448.23" x2="371.6" y2="448.23" stroke="#111" stroke-width="0.9" />
<line x1="369.6" y1="444.79" x2="371.6" y2="444.79" stroke="#111" stroke-width="0.9" />
<line x1="369.6" y1="442.12" x2="371.6" y2="442.12" stroke="#111" stroke-width="0.9" />
<line x1="369.6" y1="439.93" x2="371.6" y2="439.93" stroke="#111" stroke-width="0.9" />
<line x1="369.6" y1="438.09" x2="371.6" y2="438.09" stroke="#111" stroke-width="0.9" />
<line x1="369.6" y1="436.49" x2="371.6" y2="436.49" stroke="#111" stroke-width="0.9" />
<line x1="369.6" y1="435.08" x2="371.6" y2="435.08" stroke="#111" stroke-width="0.9" />
<line x1="369.6" y1="433.82" x2="373.1" y2="433.82" stroke="#111" stroke-width="0.9" />
<line x1="369.6" y1="425.52" x2="371.6" y2="425.52" stroke="#111" stroke-width="0.9" />
<line x1="369.6" y1="420.67" x2="371.6" y2="420.67" stroke="#111" stroke-width="0.9" />
<line x1="369.6" y1="417.23" x2="371.6" y2="417.23" stroke="#111" stroke-width="0.9" />
<line x1="369.6" y1="414.56" x2="371.6" y2="414.56" stroke="#111" stroke-width="0.9" />
<line x1="369.6" y1="412.37" x2="371.6" y2="412.37" stroke="#111" stroke-width="0.9" />
<line x1="369.6" y1="410.53" x2="371.6" y2="410.53" stroke="#111" stroke-width="0.9" />
<line x1="369.6" y1="408.93" x2="371.6" y2="408.93" stroke="#111" stroke-width="0.9" />
<line x1="369.6" y1="407.52" x2="371.6" y2="407.52" stroke="#111" stroke-width="0.9" />
<line x1="369.6" y1="406.26" x2="373.1" y2="406.26" stroke="#111" stroke-width="0.9" />
<line x1="369.6" y1="397.96" x2="371.6" y2="397.96" stroke="#111" stroke-width="0.9" />
<line x1="369.6" y1="393.11" x2="371.6" y2="393.11" stroke="#111" stroke-width="0.9" />
<line x1="369.6" y1="389.67" x2="371.6" y2="389.67" stroke="#111" stroke-width="0.9" />
<line x1="369.6" y1="387" x2="371.6" y2="387" stroke="#111" stroke-width="0.9" />
<line x1="369.6" y1="384.81" x2="371.6" y2="384.81" stroke="#111" stroke-width="0.9" />
<line x1="369.6" y1="382.97" x2="371.6" y2="382.97" stroke="#111" stroke-width="0.9" />
<line x1="369.6" y1="381.37" x2="371.6" y2="381.37" stroke="#111" stroke-width="0.9" />
<line x1="369.6" y1="379.96" x2="371.6" y2="379.96" stroke="#111" stroke-width="0.9" />
<line x1="390.92" y1="516.5" x2="390.92" y2="513.5" stroke="#111" stroke-width="0.9" />
<line x1="412.25" y1="516.5" x2="412.25" y2="513.5" stroke="#111" stroke-width="0.9" />
<line x1="433.57" y1="516.5" x2="433.57" y2="513.5" stroke="#111" stroke-width="0.9" />
<line x1="454.9" y1="516.5" x2="454.9" y2="513.5" stroke="#111" stroke-width="0.9" />
<line x1="476.22" y1="516.5" x2="476.22" y2="513.5" stroke="#111" stroke-width="0.9" />
<line x1="497.55" y1="516.5" x2="497.55" y2="513.5" stroke="#111" stroke-width="0.9" />
<line x1="518.88" y1="516.5" x2="518.88" y2="513.5" stroke="#111" stroke-width="0.9" />
<line x1="540.2" y1="516.5" x2="540.2" y2="513.5" stroke="#111" stroke-width="0.9" />
<rect x="369.6" y="378.7" width="170.6" height="137.8" fill="none" stroke="#111" stroke-width="1.6" />
<text x="367" y="382.4" font-family='"Liberation Sans", sans-serif' font-size="9.2" font-weight="bold" fill="#111" text-anchor="end">10<tspan font-size="6.8" dy="-4.2">2</tspan></text>
<text x="367" y="409.96" font-family='"Liberation Sans", sans-serif' font-size="9.2" font-weight="bold" fill="#111" text-anchor="end">10<tspan font-size="6.8" dy="-4.2">1</tspan></text>
<text x="367" y="437.52" font-family='"Liberation Sans", sans-serif' font-size="9.2" font-weight="bold" fill="#111" text-anchor="end">10<tspan font-size="6.8" dy="-4.2">0</tspan></text>
<text x="367" y="465.08" font-family='"Liberation Sans", sans-serif' font-size="9.2" font-weight="bold" fill="#111" text-anchor="end">10<tspan font-size="6.8" dy="-4.2">-1</tspan></text>
<text x="367" y="492.64" font-family='"Liberation Sans", sans-serif' font-size="9.2" font-weight="bold" fill="#111" text-anchor="end">10<tspan font-size="6.8" dy="-4.2">-2</tspan></text>
<text x="367" y="520.2" font-family='"Liberation Sans", sans-serif' font-size="9.2" font-weight="bold" fill="#111" text-anchor="end">10<tspan font-size="6.8" dy="-4.2">-3</tspan></text>
<text x="368.1" y="529.4" font-family='"Liberation Sans", sans-serif' font-size="11.6" fill="#111" text-anchor="middle" font-weight="bold" font-style="normal" >-2.0</text>
<text x="389.42" y="529.4" font-family='"Liberation Sans", sans-serif' font-size="11.6" fill="#111" text-anchor="middle" font-weight="bold" font-style="normal" >-1.5</text>
<text x="410.75" y="529.4" font-family='"Liberation Sans", sans-serif' font-size="11.6" fill="#111" text-anchor="middle" font-weight="bold" font-style="normal" >-1.0</text>
<text x="432.07" y="529.4" font-family='"Liberation Sans", sans-serif' font-size="11.6" fill="#111" text-anchor="middle" font-weight="bold" font-style="normal" >-0.5</text>
<text x="454.9" y="529.4" font-family='"Liberation Sans", sans-serif' font-size="11.6" fill="#111" text-anchor="middle" font-weight="bold" font-style="normal" >0.0</text>
<text x="476.22" y="529.4" font-family='"Liberation Sans", sans-serif' font-size="11.6" fill="#111" text-anchor="middle" font-weight="bold" font-style="normal" >0.5</text>
<text x="497.55" y="529.4" font-family='"Liberation Sans", sans-serif' font-size="11.6" fill="#111" text-anchor="middle" font-weight="bold" font-style="normal" >1.0</text>
<text x="518.88" y="529.4" font-family='"Liberation Sans", sans-serif' font-size="11.6" fill="#111" text-anchor="middle" font-weight="bold" font-style="normal" >1.5</text>
<text x="540.2" y="529.4" font-family='"Liberation Sans", sans-serif' font-size="11.6" fill="#111" text-anchor="middle" font-weight="bold" font-style="normal" >2.0</text>
<text transform="translate(344.6,464.2) rotate(-90)" font-family='"Liberation Sans", sans-serif' font-size="14" font-weight="bold" fill="#111">I<tspan font-size="9.5" dy="2">D</tspan><tspan dy="-2"> (μA)</tspan></text>
<text x="0" y="0" font-family='"Liberation Serif", serif' font-size="21.5" fill="#111" text-anchor="start" font-weight="bold" font-style="normal" transform="translate(323.2,377.5) scale(1.22,1)">d</text>
<text x="421.2" y="393.2" font-family='"Liberation Sans", sans-serif' font-size="11.2" font-weight="bold" fill="#111" textLength="81.5" lengthAdjust="spacing">|V<tspan font-size="7" dy="2.5">D</tspan><tspan dy="-2.5">|= </tspan><tspan font-family='"Liberation Serif", serif' font-weight="bold" font-size="12">0.1</tspan>V~0.7V</text>
<text x="417.7" y="406.5" font-family='"Liberation Sans", sans-serif' font-size="11.2" fill="#111" text-anchor="start" font-weight="bold" font-style="normal" >step = 0.3V</text>
<text x="371.5" y="458.2" font-family='"Liberation Sans", sans-serif' font-size="11" fill="#111" text-anchor="start" font-weight="bold" font-style="normal" >p-type FET</text>
<text x="478.4" y="457.2" font-family='"Liberation Sans", sans-serif' font-size="11" fill="#111" text-anchor="start" font-weight="bold" font-style="normal" >n-type FET</text>
<ellipse cx="403.2" cy="411" rx="6.3" ry="19.4" fill="none" stroke="#333" stroke-width="0.9" transform="rotate(4 403.2 411)"/>
<path d="M385.2,429 C386.5,419 388,412 390.1,407.7 C392.5,400 395,393 397.2,389.5" fill="none" stroke="#333" stroke-width="0.9"/>
<polygon points="398.2,386.6 395.6,391 398.9,391.2" fill="#333" />
<ellipse cx="503.4" cy="416.9" rx="6.6" ry="19.5" fill="none" stroke="#333" stroke-width="0.9"/>
<path d="M518,433 C517.5,420 516,405 513.8,396" fill="none" stroke="#333" stroke-width="0.9"/>
<polygon points="513.4,393.5 512,397.8 515.2,397.4" fill="#333" />
<polyline points="369.6,409.7 370.38,409.78 371.45,409.87 372.75,410 374.24,410.21 375.9,410.5 377.79,410.88 379.93,411.34 382.22,411.87 384.55,412.49 386.8,413.2 388.98,414.01 391.16,414.92 393.34,415.92 395.52,416.98 397.7,418.1 399.91,419.29 402.16,420.56 404.39,421.88 406.55,423.24 408.6,424.6 410.52,425.96 412.36,427.34 414.11,428.74 415.79,430.19 417.4,431.7 418.96,433.26 420.46,434.86 421.88,436.51 423.2,438.22 424.4,440 425.43,441.86 426.31,443.81 427.1,445.81 427.88,447.82 428.7,449.8 429.57,451.76 430.45,453.72 431.34,455.67 432.22,457.63 433.1,459.6 433.98,461.59 434.86,463.61 435.75,465.62 436.63,467.6 437.5,469.5 438.36,471.33 439.22,473.12 440.08,474.86 440.94,476.55 441.8,478.2 442.68,479.81 443.56,481.37 444.44,482.88 445.32,484.36 446.2,485.8 447.06,487.2 447.92,488.57 448.78,489.89 449.64,491.17 450.5,492.4 451.36,493.59 452.2,494.75 453.06,495.85 453.95,496.87 454.9,497.8 455.93,498.65 457.03,499.43 458.15,500.12 459.29,500.68 460.4,501.1 461.47,501.36 462.51,501.5 463.56,501.5 464.64,501.36 465.8,501.1 467.03,500.7 468.31,500.17 469.63,499.51 471,498.72 472.4,497.8 473.87,496.68 475.41,495.35 476.98,493.93 478.52,492.54 480,491.3 481.5,490.15 483.07,489.03 484.55,487.99 485.8,487.13 486.7,486.5" fill="none" stroke="#1c2a96" stroke-width="1.5" stroke-linejoin="round" stroke-linecap="round" />
<polyline points="369.6,393 370.38,393.11 371.45,393.26 372.75,393.45 374.24,393.72 375.9,394.1 377.79,394.59 379.93,395.18 382.22,395.86 384.55,396.6 386.8,397.4 388.98,398.24 391.16,399.14 393.34,400.1 395.52,401.15 397.7,402.3 399.91,403.56 402.16,404.93 404.39,406.38 406.55,407.88 408.6,409.4 410.51,410.91 412.33,412.43 414.07,414 415.75,415.68 417.4,417.5 419.01,419.51 420.58,421.67 422.1,423.92 423.57,426.22 425,428.5 426.41,430.8 427.81,433.15 429.15,435.5 430.39,437.8 431.5,440 432.42,442.05 433.19,443.99 433.87,445.88 434.55,447.8 435.3,449.8 436.13,451.93 436.98,454.13 437.85,456.37 438.73,458.57 439.6,460.7 440.47,462.78 441.35,464.85 442.24,466.86 443.12,468.76 444,470.5 444.88,472.04 445.76,473.43 446.65,474.7 447.53,475.91 448.4,477.1 449.25,478.29 450.07,479.45 450.9,480.55 451.76,481.57 452.7,482.5 453.72,483.35 454.82,484.13 455.95,484.82 457.09,485.38 458.2,485.8 459.27,486.05 460.31,486.17 461.36,486.15 462.44,486.03 463.6,485.8 464.79,485.53 466,485.2 467.27,484.73 468.66,484.06 470.2,483.1 472,481.73 474.04,480 476.15,478.1 478.19,476.21 480,474.5 481.65,472.9 483.22,471.29 484.65,469.78 485.84,468.51 486.7,467.6" fill="none" stroke="#0f8f3c" stroke-width="1.5" stroke-linejoin="round" stroke-linecap="round" />
<polyline points="369.6,386.8 370.38,386.94 371.45,387.11 372.75,387.34 374.24,387.66 375.9,388.1 377.79,388.68 379.93,389.39 382.22,390.18 384.55,391.03 386.8,391.9 388.98,392.77 391.16,393.68 393.34,394.63 395.52,395.66 397.7,396.8 399.91,398.06 402.16,399.43 404.39,400.88 406.55,402.37 408.6,403.9 410.51,405.43 412.33,406.97 414.07,408.57 415.75,410.27 417.4,412.1 419.05,414.15 420.68,416.4 422.24,418.7 423.7,420.95 425,423 426.1,424.8 427.04,426.45 427.88,428.01 428.68,429.56 429.5,431.2 430.35,432.91 431.18,434.63 431.99,436.38 432.8,438.17 433.6,440 434.39,441.9 435.16,443.85 435.92,445.83 436.7,447.82 437.5,449.8 438.33,451.79 439.19,453.82 440.05,455.83 440.93,457.77 441.8,459.6 442.68,461.31 443.56,462.94 444.44,464.49 445.32,465.94 446.2,467.3 447.05,468.56 447.87,469.73 448.7,470.8 449.56,471.79 450.5,472.7 451.54,473.54 452.67,474.31 453.82,474.98 454.95,475.55 456,476 456.93,476.31 457.79,476.5 458.62,476.59 459.47,476.58 460.4,476.5 461.4,476.36 462.43,476.15 463.51,475.84 464.63,475.43 465.8,474.9 467.03,474.24 468.31,473.47 469.63,472.58 471,471.59 472.4,470.5 473.87,469.24 475.41,467.81 476.98,466.3 478.52,464.83 480,463.5 481.5,462.25 483.07,461 484.55,459.86 485.8,458.89 486.7,458.2" fill="none" stroke="#e83e9a" stroke-width="1.5" stroke-linejoin="round" stroke-linecap="round" />
<polyline points="422.7,475.12 422.99,475.75 423.37,476.37 423.82,477.26 424.32,477.61 424.86,478.7 425.42,477.9 425.97,479.51 426.5,481.2 427.02,481.53 427.56,482.9 428.11,482.45 428.66,484.08 429.22,484.68 429.79,486.21 430.35,487.22 430.9,487.12 431.45,488.37 431.99,489.34 432.53,491.33 433.07,491.89 433.61,491.61 434.16,493.54 434.73,493.12 435.3,494.71 435.9,494.58 436.52,495.14 437.15,497.5 437.79,497.06 438.42,497.75 439.04,499.7 439.64,499.93 440.2,499.12 440.72,500.39 441.21,499.46 441.68,499.23 442.13,498.89 442.58,498.44 443.03,497.92 443.5,497.33 444,496.7 444.52,495.98 445.06,495.14 445.61,494.2 446.17,493.2 446.73,492.16 447.29,491.11 447.85,490.08 448.4,489.1 448.93,488.17 449.45,487.25 449.97,486.35 450.48,485.44 451,484.52 451.54,483.56 452.11,482.56 452.7,481.5 453.33,480.36 454,479.16 454.68,477.9 455.39,476.61 456.1,475.32 456.81,474.04 457.51,472.79 458.2,471.6 458.87,470.46 459.53,469.35 460.18,468.26 460.82,467.19 461.48,466.14 462.14,465.09 462.81,464.05 463.5,463 464.2,461.95 464.89,460.91 465.59,459.87 466.31,458.84 467.04,457.81 467.79,456.8 468.58,455.79 469.4,454.8 470.26,453.82 471.15,452.84 472.07,451.88 473.01,450.93 473.98,449.98 474.97,449.04 475.98,448.12 477,447.2 478.05,446.29 479.13,445.38 480.24,444.47 481.37,443.58 482.51,442.7 483.64,441.84 484.78,441.01 485.9,440.2 487,439.42 488.09,438.67 489.18,437.94 490.27,437.23 491.37,436.54 492.48,435.85 493.63,435.17 494.8,434.5 495.99,433.83 497.17,433.17 498.36,432.52 499.58,431.88 500.83,431.24 502.15,430.62 503.53,430 505,429.4 506.6,428.79 508.33,428.18 510.14,427.57 512.01,426.98 513.88,426.4 515.71,425.86 517.46,425.35 519.1,424.9 520.62,424.5 522.07,424.15 523.46,423.84 524.81,423.56 526.12,423.31 527.41,423.07 528.7,422.83 530,422.6 531.36,422.36 532.8,422.13 534.26,421.91 535.68,421.71 537.02,421.52 538.22,421.35 539.23,421.21 540,421.1" fill="none" stroke="#1e4fd0" stroke-width="1.5" stroke-linejoin="round" stroke-linecap="round" />
<polyline points="422.7,464.5 423.37,465.66 424.33,467.32 425.44,469.22 426.57,471.1 427.6,472.7 428.51,474 429.4,475.18 430.26,476.25 431.13,477.25 432,478.2 432.89,479.17 433.79,480.15 434.68,481.03 435.56,481.68 436.4,482 437.2,481.96 437.96,481.63 438.71,481.05 439.45,480.26 440.2,479.3 440.95,478.1 441.69,476.65 442.43,475.02 443.2,473.31 444,471.6 444.86,469.85 445.76,467.99 446.68,466.11 447.6,464.25 448.5,462.5 449.32,460.91 450.07,459.44 450.84,457.99 451.73,456.48 452.8,454.8 454.12,452.89 455.64,450.8 457.26,448.66 458.91,446.55 460.5,444.6 462.01,442.82 463.48,441.15 464.97,439.55 466.5,437.98 468.1,436.4 469.8,434.81 471.57,433.22 473.38,431.66 475.2,430.14 477,428.7 478.78,427.33 480.56,426.02 482.34,424.77 484.12,423.56 485.9,422.4 487.66,421.3 489.4,420.27 491.15,419.28 492.94,418.3 494.8,417.3 496.69,416.26 498.6,415.21 500.58,414.16 502.69,413.15 505,412.2 507.62,411.3 510.51,410.44 513.5,409.63 516.42,408.88 519.1,408.2 521.5,407.61 523.73,407.1 525.86,406.64 527.93,406.22 530,405.8 532.22,405.37 534.54,404.95 536.76,404.56 538.65,404.24 540,404" fill="none" stroke="#ff1a1a" stroke-width="1.5" stroke-linejoin="round" stroke-linecap="round" />
<polyline points="423.3,460.2 423.81,461.21 424.52,462.66 425.35,464.32 426.24,465.95 427.1,467.3 427.93,468.49 428.79,469.69 429.68,470.71 430.58,471.41 431.5,471.6 432.45,471.24 433.42,470.43 434.41,469.26 435.41,467.82 436.4,466.2 437.37,464.28 438.33,462.01 439.3,459.56 440.32,457.1 441.4,454.8 442.58,452.66 443.82,450.57 445.11,448.53 446.41,446.54 447.7,444.6 448.97,442.71 450.25,440.86 451.54,439.06 452.82,437.34 454.1,435.7 455.36,434.17 456.6,432.73 457.85,431.36 459.14,430.02 460.5,428.7 461.92,427.39 463.39,426.11 464.91,424.85 466.48,423.62 468.1,422.4 469.8,421.2 471.57,420.01 473.38,418.85 475.2,417.71 477,416.6 478.78,415.51 480.56,414.45 482.34,413.41 484.12,412.43 485.9,411.5 487.66,410.65 489.4,409.86 491.15,409.11 492.94,408.4 494.8,407.7 496.69,407.03 498.6,406.41 500.58,405.8 502.69,405.18 505,404.5 507.62,403.73 510.51,402.9 513.5,402.06 516.42,401.27 519.1,400.6 521.5,400.06 523.73,399.62 525.86,399.24 527.93,398.91 530,398.6 532.22,398.3 534.54,398.04 536.76,397.82 538.65,397.64 540,397.5" fill="none" stroke="#111111" stroke-width="1.5" stroke-linejoin="round" stroke-linecap="round" />
<rect x="24.7" y="593" width="109.1" height="73" fill="#c8ecf8" stroke="#6e6e6e" stroke-width="0.7" />
<rect x="147.6" y="593" width="46.7" height="43.4" fill="#c8ecf8" stroke="#6e6e6e" stroke-width="0.7" />
<rect x="194.3" y="592.8" width="109.6" height="73" fill="#c8ecf8" stroke="#6e6e6e" stroke-width="0.7" />
<rect x="133.8" y="636" width="60.5" height="30" fill="#c8ecf8" stroke="none" stroke-width="1" />
<rect x="24.7" y="666" width="279.2" height="30.4" fill="#76a7b8" stroke="#6e6e6e" stroke-width="0.7" />
<rect x="40.7" y="577.6" width="69.3" height="15.4" fill="#9fcde0" stroke="#6e6e6e" stroke-width="0.7" />
<rect x="43" y="587.8" width="66" height="5.2" fill="#f5b584" stroke="#6e6e6e" stroke-width="0.7" />
<rect x="213.6" y="577.5" width="76.8" height="15.3" fill="#9fcde0" stroke="#6e6e6e" stroke-width="0.7" />
<rect x="222.3" y="587.7" width="66.3" height="5.1" fill="#f5b584" stroke="#6e6e6e" stroke-width="0.7" />
<polygon points="110.5,573.5 147.6,573.5 147.6,636.4 133.8,636.4 133.8,593.2 110.5,593.2" fill="#6e9bc6" stroke="#6e6e6e" stroke-width="0.7" />
<rect x="147.6" y="573.5" width="65.9" height="19.7" fill="#82c9a6" stroke="#6e6e6e" stroke-width="0.7" />
<rect x="33.5" y="601.5" width="91.5" height="7.8" fill="#fbe6c3" stroke="#7d6f55" stroke-width="0.7" />
<rect x="204.8" y="601.5" width="83.8" height="7.8" fill="#fbe6c3" stroke="#7d6f55" stroke-width="0.7" />
<rect x="33.5" y="657.9" width="91.5" height="7.8" fill="#fbe6c3" stroke="#7d6f55" stroke-width="0.7" />
<rect x="204.8" y="658.4" width="83.8" height="7.8" fill="#fbe6c3" stroke="#7d6f55" stroke-width="0.7" />
<polygon points="40.7,636.4 290.8,636.4 290.8,653.6 195.5,653.6 195.5,660 133.8,660 133.8,653.6 40.7,653.6" fill="#aaa7cc" stroke="#6e6e6e" stroke-width="0.7" />
<polygon points="140,638.8 188.8,638.8 188.8,651.8 179.8,651.8 179.8,659.3 149.5,659.3 149.5,651.8 140,651.8" fill="#dac9ee" stroke="#333" stroke-width="0.9" stroke-dasharray="2.2,1.4"/>
<rect x="43" y="647.6" width="66" height="5" fill="#f5c7cc" stroke="#6e6e6e" stroke-width="0.7" />
<rect x="221.6" y="648.4" width="67" height="5" fill="#f5c7cc" stroke="#6e6e6e" stroke-width="0.7" />
<text x="76.6" y="585" font-family='"Liberation Sans", sans-serif' font-size="7.2" fill="#2a2a2a" text-anchor="middle" font-weight="normal" font-style="normal" textLength="45" lengthAdjust="spacingAndGlyphs">30 nm tier-2 S/D</text>
<text x="76.2" y="592.3" font-family='"Liberation Sans", sans-serif' font-size="4.2" fill="#2a2a2a" text-anchor="middle" font-weight="normal" font-style="normal" >p-WSe<tspan font-size="3" dy="1">2</tspan></text>
<text x="256.3" y="585" font-family='"Liberation Sans", sans-serif' font-size="7.2" fill="#2a2a2a" text-anchor="middle" font-weight="normal" font-style="normal" textLength="45" lengthAdjust="spacingAndGlyphs">30 nm tier-2 S/D</text>
<text x="255.5" y="592.2" font-family='"Liberation Sans", sans-serif' font-size="4.2" fill="#2a2a2a" text-anchor="middle" font-weight="normal" font-style="normal" >p-WSe<tspan font-size="3" dy="1">2</tspan></text>
<text x="74.8" y="608" font-family='"Liberation Sans", sans-serif' font-size="7.2" fill="#2a2a2a" text-anchor="middle" font-weight="normal" font-style="normal" textLength="46.4" lengthAdjust="spacingAndGlyphs">20 nm tier-2 gate</text>
<text x="256" y="608" font-family='"Liberation Sans", sans-serif' font-size="7.2" fill="#2a2a2a" text-anchor="middle" font-weight="normal" font-style="normal" textLength="46.4" lengthAdjust="spacingAndGlyphs">20 nm tier-2 gate</text>
<text x="167" y="581.4" font-family='"Liberation Sans", sans-serif' font-size="6.1" fill="#2a2a2a" text-anchor="middle" font-weight="normal" font-style="normal" >Tier-2</text>
<text x="167" y="588.2" font-family='"Liberation Sans", sans-serif' font-size="6.1" fill="#2a2a2a" text-anchor="middle" font-weight="normal" font-style="normal" >interconnect</text>
<text x="140.5" y="615.6" font-family='"Liberation Sans", sans-serif' font-size="6.1" fill="#2a2a2a" text-anchor="middle" font-weight="normal" font-style="normal" >Via</text>
<text x="76.6" y="644.4" font-family='"Liberation Sans", sans-serif' font-size="7.2" fill="#2a2a2a" text-anchor="middle" font-weight="normal" font-style="normal" textLength="45" lengthAdjust="spacingAndGlyphs">30 nm tier-1 S/D</text>
<text x="256.3" y="645" font-family='"Liberation Sans", sans-serif' font-size="7.2" fill="#2a2a2a" text-anchor="middle" font-weight="normal" font-style="normal" textLength="45" lengthAdjust="spacingAndGlyphs">30 nm tier-1 S/D</text>
<text x="76.2" y="652" font-family='"Liberation Sans", sans-serif' font-size="4.2" fill="#2a2a2a" text-anchor="middle" font-weight="normal" font-style="normal" >n-WSe<tspan font-size="3" dy="1">2</tspan></text>
<text x="255.2" y="652.7" font-family='"Liberation Sans", sans-serif' font-size="4.2" fill="#2a2a2a" text-anchor="middle" font-weight="normal" font-style="normal" >n-WSe<tspan font-size="3" dy="1">2</tspan></text>
<text x="164.4" y="645.4" font-family='"Liberation Sans", sans-serif' font-size="6.1" fill="#2a2a2a" text-anchor="middle" font-weight="normal" font-style="normal" >Tier-1</text>
<text x="164.4" y="651.8" font-family='"Liberation Sans", sans-serif' font-size="6.1" fill="#2a2a2a" text-anchor="middle" font-weight="normal" font-style="normal" >interconnect</text>
<text x="76.2" y="664.7" font-family='"Liberation Sans", sans-serif' font-size="7.2" fill="#2a2a2a" text-anchor="middle" font-weight="normal" font-style="normal" textLength="46.4" lengthAdjust="spacingAndGlyphs">20 nm tier-1 gate</text>
<text x="255.5" y="665.1" font-family='"Liberation Sans", sans-serif' font-size="7.2" fill="#2a2a2a" text-anchor="middle" font-weight="normal" font-style="normal" textLength="46.4" lengthAdjust="spacingAndGlyphs">20 nm tier-1 gate</text>
<text x="168" y="681" font-family='"Liberation Sans", sans-serif' font-size="6.9" fill="#2a2a2a" text-anchor="middle" font-weight="normal" font-style="normal" >285 nm SiO<tspan font-size="4.6" dy="1.3">2</tspan><tspan dy="-1.3">/p</tspan><tspan font-size="4.6" dy="-2.4">++</tspan><tspan dy="2.4">Si</tspan></text>
<text x="13.3" y="574.9" font-family='"Liberation Serif", serif' font-size="27.5" fill="#111" text-anchor="start" font-weight="bold" font-style="normal" >e</text>
<defs>
<linearGradient id="semTop" x1="0" y1="0" x2="0" y2="1">
<stop offset="0" stop-color="#5e5e5e"/><stop offset="0.45" stop-color="#6c6c6c"/><stop offset="0.75" stop-color="#747474"/><stop offset="0.92" stop-color="#636363"/><stop offset="1" stop-color="#505050"/></linearGradient>
<filter id="soft" x="-5%" y="-5%" width="110%" height="110%"><feGaussianBlur stdDeviation="0.35"/></filter>
</defs>
<rect x="327" y="572.6" width="217.2" height="124.6" fill="#474747" />
<rect x="327" y="572.6" width="217.2" height="13" fill="url(#semTop)" />
<rect x="327" y="692.5" width="217.2" height="4.7" fill="#4a4a4a" />
<rect x="451.9" y="585" width="8.7" height="112" fill="#383838" />
<rect x="451.9" y="572.6" width="8.7" height="13" fill="#555" />
<polygon points="371.3,585 441,585 441,572.6 451.9,572.6 451.9,593.6 385.5,593.6 385.5,601.5 374.5,601.5 374.5,596 371.3,596" fill="#52b0a6" stroke="#a6dcd4" stroke-width="0.9" />
<polygon points="460.6,572.6 471.5,572.6 471.5,586 491.5,586 491.5,594.6 490,594.6 490,600 492.5,600 492.5,621 475.3,621 475.3,600 478.5,600 478.5,594.6 460.6,594.6" fill="#52b0a6" stroke="#a6dcd4" stroke-width="0.9" />
<polygon points="355.5,642.4 374.2,642.4 374.2,663.6 369,663.6 369,682.7 451.9,682.7 451.9,697.2 441,697.2 441,691.8 355.5,691.8" fill="#52b0a6" stroke="#a6dcd4" stroke-width="0.9" />
<polygon points="460.6,683 490.8,683 490.8,643.6 507.6,643.6 507.6,660 503.4,660 503.4,679 504,679 504,692 471.5,692 471.5,697.2 460.6,697.2" fill="#52b0a6" stroke="#a6dcd4" stroke-width="0.9" />
<polygon points="359.2,602.9 388.8,602.9 388.8,620 376.8,620 376.8,651.9 359.2,651.9" fill="#a4b67e" stroke="#dde8c2" stroke-width="1" />
<polygon points="486.4,605 512.4,605 512.4,657 494,657 494,618 486.4,618" fill="#a4b67e" stroke="#dde8c2" stroke-width="1" />
<rect x="438.4" y="602.5" width="17.1" height="68.5" fill="#6c76b0" stroke="#c0c8e6" stroke-width="0.9" />
<rect x="441.3" y="671" width="10.6" height="9.5" fill="#5b4a92" />
<rect x="461.1" y="653.2" width="4.5" height="34" fill="#6a5a9e" />
<rect x="461.4" y="622" width="9.4" height="3" fill="#5d4f96" />
<rect x="465.6" y="647" width="17.4" height="42.3" fill="#2b5e98" stroke="#7fa6d0" stroke-width="0.8" />
<line x1="470.2" y1="572.6" x2="470.2" y2="697" stroke="#e03030" stroke-width="0.9" stroke-dasharray="1.6,1.6"/>
<rect x="507.5" y="688" width="34.2" height="1.8" fill="#ffffff" />
<text x="517" y="685.6" font-family='"Liberation Sans", sans-serif' font-size="6.4" fill="#f4f4f4" text-anchor="start" font-weight="normal" font-style="normal" >1 μm</text>
<text x="416" y="591.4" font-family='"Liberation Sans", sans-serif' font-size="6.2" fill="#f4f4f4" text-anchor="middle" font-weight="normal" font-style="normal" >Drain (tier 2)</text>
<text x="476.4" y="592.6" font-family='"Liberation Sans", sans-serif' font-size="5.9" fill="#f4f4f4" text-anchor="middle" font-weight="normal" font-style="normal" >Source (T2)</text>
<text x="405" y="689.8" font-family='"Liberation Sans", sans-serif' font-size="6" fill="#f4f4f4" text-anchor="middle" font-weight="normal" font-style="normal" >Drain (tier 2)</text>
<text x="405" y="675.6" font-family='"Liberation Sans", sans-serif' font-size="6" fill="#f4f4f4" text-anchor="middle" font-weight="normal" font-style="normal" >Drain (tier 1)</text>
<line x1="424" y1="673.6" x2="437.5" y2="675.6" stroke="#f4f4f4" stroke-width="0.9" />
<polygon points="440.3,676.2 436,673.5 435.7,677.4" fill="#f4f4f4" />
<text x="0" y="0" font-family='"Liberation Sans", sans-serif' font-size="5.6" fill="#f4f4f4" text-anchor="middle" font-weight="normal" font-style="normal" transform="translate(368,627.5) rotate(-90)">Interconnect (T2)</text>
<text x="0" y="0" font-family='"Liberation Sans", sans-serif' font-size="5.6" fill="#f4f4f4" text-anchor="middle" font-weight="normal" font-style="normal" transform="translate(505,629.5) rotate(-90)">Interconnect (T2)</text>
<text x="0" y="0" font-family='"Liberation Sans", sans-serif' font-size="5.8" fill="#f4f4f4" text-anchor="middle" font-weight="normal" font-style="normal" transform="translate(449,637) rotate(-90)">Interconnect (T1)</text>
<text x="0" y="0" font-family='"Liberation Sans", sans-serif' font-size="6" fill="#f4f4f4" text-anchor="middle" font-weight="normal" font-style="normal" transform="translate(476.3,668) rotate(-90)">Via</text>
<text x="0" y="0" font-family='"Liberation Sans", sans-serif' font-size="5.8" fill="#f4f4f4" text-anchor="middle" font-weight="normal" font-style="normal" transform="translate(500.5,666) rotate(-90)">Source (T2)</text>
<text x="0" y="0" font-family='"Liberation Serif", serif' font-size="23" fill="#111" text-anchor="start" font-weight="bold" font-style="normal" transform="translate(312.6,574.4) scale(1.15,1)">f</text>
</svg></body></html>
